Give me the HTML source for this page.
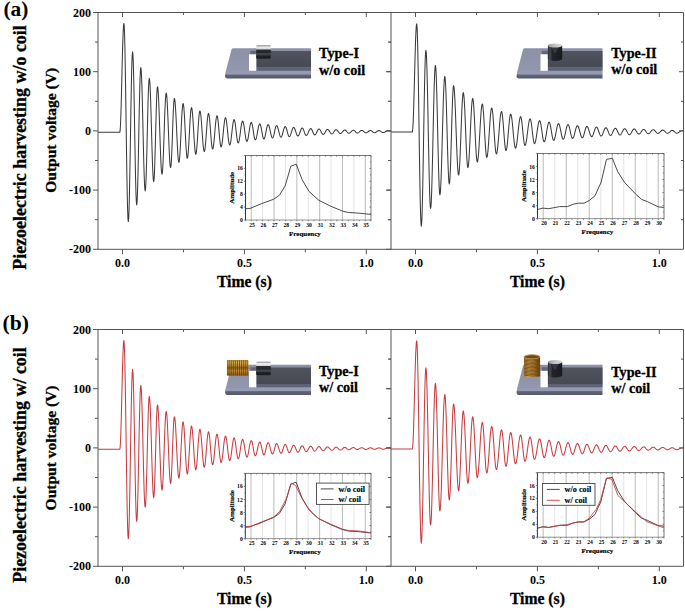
<!DOCTYPE html><html><head><meta charset="utf-8"><style>html,body{margin:0;padding:0;background:#fff;}svg{display:block;}</style></head><body>
<svg width="685" height="611" viewBox="0 0 685 611">

<defs>
<linearGradient id="gTop" x1="0" y1="0" x2="0" y2="1">
 <stop offset="0" stop-color="#8c91a8"/><stop offset="0.8" stop-color="#9196ad"/><stop offset="1" stop-color="#989db3"/>
</linearGradient>
<linearGradient id="gFront" x1="0" y1="0" x2="0" y2="1">
 <stop offset="0" stop-color="#6e7287"/><stop offset="0.5" stop-color="#5d6074"/><stop offset="1" stop-color="#55586a"/>
</linearGradient>
<linearGradient id="gBeam" x1="0" y1="0" x2="0" y2="1">
 <stop offset="0" stop-color="#50525d"/><stop offset="1" stop-color="#474953"/>
</linearGradient>
<linearGradient id="gMagI" x1="0" y1="0" x2="0" y2="1">
 <stop offset="0" stop-color="#828286"/><stop offset="0.08" stop-color="#b8b8bb"/><stop offset="0.13" stop-color="#efeff0"/>
 <stop offset="0.29" stop-color="#d4d4d6"/><stop offset="0.34" stop-color="#2e2f34"/><stop offset="0.55" stop-color="#24252b"/>
 <stop offset="0.62" stop-color="#474951"/><stop offset="0.72" stop-color="#3c3e46"/><stop offset="0.8" stop-color="#1f2026"/>
 <stop offset="1" stop-color="#1d1e23"/>
</linearGradient>
<linearGradient id="gCyl" x1="0" y1="0" x2="1" y2="0">
 <stop offset="0" stop-color="#2a2b30"/><stop offset="0.15" stop-color="#4a4b52"/><stop offset="0.3" stop-color="#232429"/>
 <stop offset="0.7" stop-color="#1e1f24"/><stop offset="1" stop-color="#18191d"/>
</linearGradient>
<linearGradient id="gCylTop" x1="0" y1="0" x2="1" y2="0">
 <stop offset="0" stop-color="#9a9a9e"/><stop offset="0.5" stop-color="#c4c4c7"/><stop offset="1" stop-color="#d8d8da"/>
</linearGradient>
<linearGradient id="gCoilH" x1="0" y1="0" x2="0" y2="1">
 <stop offset="0" stop-color="#c09040"/><stop offset="0.15" stop-color="#e6bd60"/><stop offset="0.35" stop-color="#c89440"/>
 <stop offset="0.5" stop-color="#8e5f18"/><stop offset="0.68" stop-color="#d09c48"/><stop offset="0.85" stop-color="#a5741f"/>
 <stop offset="1" stop-color="#8c6020"/>
</linearGradient>
<linearGradient id="gCoilV" x1="0" y1="0" x2="1" y2="0">
 <stop offset="0" stop-color="#a87a30"/><stop offset="0.3" stop-color="#d6a450"/><stop offset="0.6" stop-color="#c08838"/>
 <stop offset="0.85" stop-color="#8a5c1c"/><stop offset="1" stop-color="#6e4814"/>
</linearGradient>
</defs>

<rect width="685" height="611" fill="#fff"/>
<clipPath id="c98_12"><rect x="98.0" y="12.5" width="293.0" height="236.8"/></clipPath>
<path d="M98.00,132.30 L119.80,132.30 L120.14,130.44 L120.48,125.01 L120.83,116.35 L121.17,105.08 L121.51,91.94 L121.85,77.85 L122.19,63.76 L122.53,50.63 L122.88,39.35 L123.22,30.69 L123.56,25.26 L123.90,23.40 L124.24,26.28 L124.58,34.75 L124.92,48.32 L125.25,66.20 L125.59,87.36 L125.93,110.55 L126.27,134.45 L126.61,157.64 L126.95,178.80 L127.28,196.68 L127.62,210.25 L127.96,218.72 L128.30,221.60 L128.66,218.71 L129.02,210.23 L129.38,196.75 L129.73,179.18 L130.09,158.71 L130.45,136.75 L130.81,114.79 L131.17,94.33 L131.53,76.75 L131.88,63.27 L132.24,54.79 L132.60,51.90 L132.94,54.51 L133.28,62.15 L133.62,74.31 L133.97,90.15 L134.31,108.60 L134.65,128.40 L134.99,148.20 L135.33,166.65 L135.67,182.49 L136.02,194.65 L136.36,202.29 L136.70,204.90 L137.04,202.56 L137.38,195.70 L137.72,184.79 L138.07,170.58 L138.41,154.02 L138.75,136.25 L139.09,118.48 L139.43,101.93 L139.78,87.71 L140.12,76.80 L140.46,69.94 L140.80,67.60 L141.14,69.39 L141.48,74.67 L141.82,83.12 L142.15,94.25 L142.49,107.42 L142.83,121.86 L143.17,136.74 L143.51,151.18 L143.85,164.35 L144.18,175.48 L144.52,183.93 L144.86,189.21 L145.20,191.00 L145.54,189.08 L145.88,183.46 L146.22,174.51 L146.57,162.85 L146.91,149.27 L147.25,134.70 L147.59,120.13 L147.93,106.55 L148.28,94.89 L148.62,85.94 L148.96,80.32 L149.30,78.40 L149.64,79.90 L149.98,84.32 L150.32,91.39 L150.65,100.71 L150.99,111.73 L151.33,123.82 L151.67,136.28 L152.01,148.37 L152.35,159.39 L152.68,168.71 L153.02,175.78 L153.36,180.20 L153.70,181.70 L154.05,179.78 L154.39,174.16 L154.74,165.31 L155.08,153.93 L155.43,140.96 L155.77,127.44 L156.12,114.47 L156.46,103.09 L156.81,94.24 L157.15,88.62 L157.50,86.70 L157.85,87.97 L158.19,91.71 L158.54,97.70 L158.88,105.60 L159.23,114.94 L159.58,125.18 L159.92,135.72 L160.27,145.96 L160.62,155.30 L160.96,163.20 L161.31,169.19 L161.65,172.93 L162.00,174.20 L162.35,172.82 L162.70,168.77 L163.05,162.32 L163.40,153.92 L163.75,144.15 L164.10,133.65 L164.45,123.15 L164.80,113.38 L165.15,104.98 L165.50,98.53 L165.85,94.48 L166.20,93.10 L166.54,94.18 L166.88,97.37 L167.22,102.47 L167.55,109.19 L167.89,117.14 L168.23,125.86 L168.57,134.84 L168.91,143.56 L169.25,151.51 L169.58,158.23 L169.92,163.33 L170.26,166.52 L170.60,167.60 L170.95,166.20 L171.29,162.11 L171.64,155.66 L171.98,147.37 L172.33,137.92 L172.67,128.08 L173.02,118.63 L173.36,110.34 L173.71,103.89 L174.05,99.80 L174.40,98.40 L174.75,99.33 L175.09,102.07 L175.44,106.45 L175.78,112.22 L176.13,119.05 L176.48,126.54 L176.82,134.26 L177.17,141.75 L177.52,148.58 L177.86,154.35 L178.21,158.73 L178.55,161.47 L178.90,162.40 L179.25,161.39 L179.60,158.45 L179.95,153.76 L180.30,147.65 L180.65,140.54 L181.00,132.90 L181.35,125.26 L181.70,118.15 L182.05,112.04 L182.40,107.35 L182.75,104.41 L183.10,103.40 L183.45,104.34 L183.80,107.08 L184.15,111.44 L184.50,117.12 L184.85,123.75 L185.20,130.85 L185.55,137.95 L185.90,144.57 L186.25,150.26 L186.60,154.62 L186.95,157.36 L187.30,158.30 L187.65,157.44 L188.00,154.90 L188.35,150.88 L188.70,145.62 L189.05,139.51 L189.40,132.95 L189.75,126.39 L190.10,120.28 L190.45,115.02 L190.80,111.00 L191.15,108.46 L191.50,107.60 L191.86,108.39 L192.22,110.72 L192.57,114.42 L192.93,119.25 L193.29,124.87 L193.65,130.90 L194.01,136.93 L194.37,142.55 L194.73,147.38 L195.08,151.08 L195.44,153.41 L195.80,154.20 L196.14,153.46 L196.48,151.30 L196.83,147.86 L197.17,143.38 L197.51,138.15 L197.85,132.55 L198.19,126.95 L198.53,121.73 L198.88,117.24 L199.22,113.80 L199.56,111.64 L199.90,110.90 L200.24,111.49 L200.58,113.23 L200.92,116.02 L201.25,119.69 L201.59,124.03 L201.93,128.80 L202.27,133.70 L202.61,138.47 L202.95,142.81 L203.28,146.48 L203.62,149.27 L203.96,151.01 L204.30,151.60 L204.65,150.95 L205.00,149.04 L205.35,146.01 L205.70,142.05 L206.05,137.44 L206.40,132.50 L206.75,127.56 L207.10,122.95 L207.45,118.99 L207.80,115.96 L208.15,114.05 L208.50,113.40 L208.84,114.01 L209.18,115.79 L209.53,118.63 L209.87,122.33 L210.21,126.63 L210.55,131.25 L210.89,135.87 L211.23,140.17 L211.57,143.87 L211.92,146.71 L212.26,148.49 L212.60,149.10 L212.94,148.62 L213.28,147.19 L213.62,144.91 L213.95,141.91 L214.29,138.35 L214.63,134.46 L214.97,130.44 L215.31,126.55 L215.65,122.99 L215.98,119.99 L216.32,117.71 L216.66,116.28 L217.00,115.80 L217.34,116.33 L217.68,117.88 L218.03,120.35 L218.37,123.58 L218.71,127.33 L219.05,131.35 L219.39,135.37 L219.73,139.12 L220.07,142.35 L220.42,144.82 L220.76,146.37 L221.10,146.90 L221.44,146.48 L221.78,145.23 L222.12,143.23 L222.45,140.59 L222.79,137.48 L223.13,134.06 L223.47,130.54 L223.81,127.12 L224.15,124.01 L224.48,121.37 L224.82,119.37 L225.16,118.12 L225.50,117.70 L225.85,118.17 L226.20,119.53 L226.55,121.70 L226.90,124.53 L227.25,127.82 L227.60,131.35 L227.95,134.88 L228.30,138.18 L228.65,141.00 L229.00,143.17 L229.35,144.53 L229.70,145.00 L230.04,144.63 L230.38,143.55 L230.72,141.81 L231.05,139.51 L231.39,136.80 L231.73,133.83 L232.07,130.77 L232.41,127.80 L232.75,125.09 L233.08,122.79 L233.42,121.05 L233.76,119.97 L234.10,119.60 L234.44,120.00 L234.78,121.17 L235.12,123.03 L235.47,125.45 L235.81,128.27 L236.15,131.30 L236.49,134.33 L236.83,137.15 L237.17,139.57 L237.52,141.43 L237.86,142.60 L238.20,143.00 L238.54,142.68 L238.88,141.75 L239.22,140.25 L239.55,138.27 L239.89,135.93 L240.23,133.37 L240.57,130.73 L240.91,128.17 L241.25,125.83 L241.58,123.85 L241.92,122.35 L242.26,121.42 L242.60,121.10 L242.96,121.45 L243.32,122.46 L243.68,124.07 L244.03,126.17 L244.39,128.62 L244.75,131.25 L245.11,133.88 L245.47,136.32 L245.82,138.43 L246.18,140.04 L246.54,141.05 L246.90,141.40 L247.24,141.12 L247.58,140.31 L247.92,139.01 L248.25,137.30 L248.59,135.27 L248.93,133.05 L249.27,130.75 L249.61,128.53 L249.95,126.50 L250.28,124.79 L250.62,123.49 L250.96,122.68 L251.30,122.40 L251.63,122.70 L251.97,123.57 L252.30,124.96 L252.63,126.78 L252.97,128.89 L253.30,131.15 L253.63,133.41 L253.97,135.53 L254.30,137.34 L254.63,138.73 L254.97,139.60 L255.30,139.90 L255.65,139.67 L255.99,138.98 L256.34,137.89 L256.68,136.44 L257.03,134.74 L257.38,132.86 L257.72,130.94 L258.07,129.06 L258.42,127.36 L258.76,125.91 L259.11,124.82 L259.45,124.13 L259.80,123.90 L260.14,124.16 L260.48,124.91 L260.82,126.11 L261.17,127.67 L261.51,129.50 L261.85,131.45 L262.19,133.40 L262.53,135.22 L262.88,136.79 L263.22,137.99 L263.56,138.74 L263.90,139.00 L264.25,138.75 L264.60,138.04 L264.95,136.89 L265.30,135.40 L265.65,133.66 L266.00,131.80 L266.35,129.94 L266.70,128.20 L267.05,126.71 L267.40,125.56 L267.75,124.85 L268.10,124.60 L268.44,124.79 L268.78,125.37 L269.12,126.28 L269.45,127.49 L269.79,128.92 L270.13,130.49 L270.47,132.11 L270.81,133.68 L271.15,135.11 L271.48,136.32 L271.82,137.23 L272.16,137.81 L272.50,138.00 L272.84,137.79 L273.18,137.17 L273.52,136.18 L273.87,134.90 L274.21,133.40 L274.55,131.80 L274.89,130.20 L275.23,128.70 L275.58,127.42 L275.92,126.43 L276.26,125.81 L276.60,125.60 L276.94,125.77 L277.28,126.26 L277.62,127.06 L277.95,128.11 L278.29,129.34 L278.63,130.70 L278.97,132.10 L279.31,133.46 L279.65,134.69 L279.98,135.74 L280.32,136.54 L280.66,137.03 L281.00,137.20 L281.35,137.02 L281.70,136.48 L282.05,135.63 L282.40,134.53 L282.75,133.23 L283.10,131.85 L283.45,130.47 L283.80,129.18 L284.15,128.07 L284.50,127.22 L284.85,126.68 L285.20,126.50 L285.54,126.67 L285.88,127.18 L286.23,127.98 L286.57,129.03 L286.91,130.24 L287.25,131.55 L287.59,132.86 L287.93,134.07 L288.27,135.12 L288.62,135.92 L288.96,136.43 L289.30,136.60 L289.64,136.47 L289.98,136.07 L290.32,135.44 L290.65,134.61 L290.99,133.63 L291.33,132.55 L291.67,131.45 L292.01,130.37 L292.35,129.39 L292.68,128.56 L293.02,127.93 L293.36,127.53 L293.70,127.40 L294.05,127.55 L294.40,127.98 L294.75,128.66 L295.10,129.55 L295.45,130.59 L295.80,131.70 L296.15,132.81 L296.50,133.85 L296.85,134.74 L297.20,135.42 L297.55,135.85 L297.90,136.00 L298.26,135.86 L298.62,135.46 L298.97,134.83 L299.33,134.00 L299.69,133.04 L300.05,132.00 L300.41,130.96 L300.77,130.00 L301.12,129.17 L301.48,128.54 L301.84,128.14 L302.20,128.00 L302.53,128.13 L302.87,128.50 L303.20,129.08 L303.53,129.85 L303.87,130.74 L304.20,131.70 L304.53,132.66 L304.87,133.55 L305.20,134.32 L305.53,134.90 L305.87,135.27 L306.20,135.40 L306.55,135.30 L306.91,135.01 L307.26,134.54 L307.62,133.93 L307.97,133.21 L308.32,132.41 L308.68,131.59 L309.03,130.79 L309.38,130.07 L309.74,129.46 L310.09,128.99 L310.45,128.70 L310.80,128.60 L311.15,128.73 L311.51,129.10 L311.86,129.69 L312.22,130.44 L312.57,131.30 L312.93,132.20 L313.28,133.06 L313.64,133.81 L313.99,134.40 L314.35,134.77 L314.70,134.90 L315.06,134.80 L315.42,134.50 L315.77,134.04 L316.13,133.43 L316.49,132.71 L316.85,131.95 L317.21,131.19 L317.57,130.47 L317.93,129.86 L318.28,129.40 L318.64,129.10 L319.00,129.00 L319.35,129.09 L319.70,129.36 L320.05,129.79 L320.40,130.35 L320.75,131.00 L321.10,131.70 L321.45,132.40 L321.80,133.05 L322.15,133.61 L322.50,134.04 L322.85,134.31 L323.20,134.40 L323.56,134.31 L323.92,134.07 L324.27,133.67 L324.63,133.15 L324.99,132.55 L325.35,131.90 L325.71,131.25 L326.07,130.65 L326.43,130.13 L326.78,129.73 L327.14,129.49 L327.50,129.40 L327.84,129.47 L328.18,129.66 L328.52,129.97 L328.85,130.37 L329.19,130.85 L329.53,131.38 L329.87,131.92 L330.21,132.45 L330.55,132.93 L330.88,133.33 L331.22,133.64 L331.56,133.83 L331.90,133.90 L332.24,133.83 L332.58,133.62 L332.92,133.28 L333.27,132.85 L333.61,132.34 L333.95,131.80 L334.29,131.26 L334.63,130.75 L334.98,130.32 L335.32,129.98 L335.66,129.77 L336.00,129.70 L336.34,129.76 L336.68,129.92 L337.02,130.18 L337.35,130.52 L337.69,130.93 L338.03,131.37 L338.37,131.83 L338.71,132.27 L339.05,132.68 L339.38,133.02 L339.72,133.28 L340.06,133.44 L340.40,133.50 L340.76,133.44 L341.12,133.27 L341.47,132.99 L341.83,132.62 L342.19,132.20 L342.55,131.75 L342.91,131.30 L343.27,130.88 L343.62,130.51 L343.98,130.23 L344.34,130.06 L344.70,130.00 L345.05,130.05 L345.40,130.21 L345.75,130.47 L346.10,130.80 L346.45,131.19 L346.80,131.60 L347.15,132.01 L347.50,132.40 L347.85,132.73 L348.20,132.99 L348.55,133.15 L348.90,133.20 L349.25,133.16 L349.59,133.03 L349.94,132.82 L350.28,132.55 L350.63,132.23 L350.98,131.88 L351.32,131.52 L351.67,131.17 L352.02,130.85 L352.36,130.58 L352.71,130.37 L353.05,130.24 L353.40,130.20 L353.73,130.25 L354.07,130.39 L354.40,130.61 L354.73,130.90 L355.07,131.24 L355.40,131.60 L355.73,131.96 L356.07,132.30 L356.40,132.59 L356.73,132.81 L357.07,132.95 L357.40,133.00 L357.76,132.96 L358.12,132.83 L358.47,132.62 L358.83,132.35 L359.19,132.04 L359.55,131.70 L359.91,131.36 L360.27,131.05 L360.62,130.78 L360.98,130.57 L361.34,130.44 L361.70,130.40 L362.05,130.44 L362.40,130.56 L362.75,130.75 L363.10,131.00 L363.45,131.29 L363.80,131.60 L364.15,131.91 L364.50,132.20 L364.85,132.45 L365.20,132.64 L365.55,132.76 L365.90,132.80 L366.25,132.77 L366.61,132.67 L366.96,132.51 L367.32,132.30 L367.67,132.06 L368.02,131.79 L368.38,131.51 L368.73,131.24 L369.08,131.00 L369.44,130.79 L369.79,130.63 L370.15,130.53 L370.50,130.50 L370.85,130.54 L371.21,130.67 L371.56,130.88 L371.92,131.14 L372.27,131.44 L372.63,131.76 L372.98,132.06 L373.34,132.32 L373.69,132.53 L374.05,132.66 L374.40,132.70 L374.75,132.67 L375.11,132.58 L375.46,132.44 L375.82,132.25 L376.17,132.02 L376.52,131.78 L376.88,131.52 L377.23,131.28 L377.58,131.05 L377.94,130.86 L378.29,130.72 L378.65,130.63 L379.00,130.60 L379.35,130.63 L379.70,130.73 L380.05,130.89 L380.40,131.10 L380.75,131.34 L381.10,131.60 L381.45,131.86 L381.80,132.10 L382.15,132.31 L382.50,132.47 L382.85,132.57 L383.20,132.60 L383.55,132.57 L383.89,132.49 L384.24,132.36 L384.58,132.19 L384.93,131.99 L385.28,131.76 L385.62,131.54 L385.97,131.31 L386.32,131.11 L386.66,130.94 L387.01,130.81 L387.35,130.73 L387.70,130.70 L393.00,130.70" fill="none" stroke="#3a3a3a" stroke-width="1.05" stroke-linejoin="round" clip-path="url(#c98_12)"/>
<path d="M93.0,12.5 H391.0 M93.0,249.3 H391.0 M98.0,12.5 V249.3 M95.0,42.10 H98.0 M388.5,42.10 H391.0 M93.0,71.70 H98.0 M386.5,71.70 H391.0 M95.0,101.30 H98.0 M388.5,101.30 H391.0 M93.0,130.90 H98.0 M386.5,130.90 H391.0 M95.0,160.50 H98.0 M388.5,160.50 H391.0 M93.0,190.10 H98.0 M386.5,190.10 H391.0 M95.0,219.70 H98.0 M388.5,219.70 H391.0 M122.50,249.3 V254.3 M122.50,12.5 V17.0 M183.45,249.3 V252.3 M183.45,12.5 V15.0 M244.40,249.3 V254.3 M244.40,12.5 V17.0 M305.35,249.3 V252.3 M305.35,12.5 V15.0 M366.30,249.3 V254.3 M366.30,12.5 V17.0" fill="none" stroke="#555" stroke-width="1"/>
<text x="91.1" y="16.6" font-size="12" text-anchor="end" font-family="Liberation Serif" font-weight="bold">200</text>
<text x="91.1" y="75.8" font-size="12" text-anchor="end" font-family="Liberation Serif" font-weight="bold">100</text>
<text x="91.1" y="135.0" font-size="12" text-anchor="end" font-family="Liberation Serif" font-weight="bold">0</text>
<text x="91.1" y="194.2" font-size="12" text-anchor="end" font-family="Liberation Serif" font-weight="bold">-100</text>
<text x="91.1" y="253.4" font-size="12" text-anchor="end" font-family="Liberation Serif" font-weight="bold">-200</text>
<text x="122.5" y="266.7" font-size="12" text-anchor="middle" font-family="Liberation Serif" font-weight="bold">0.0</text>
<text x="244.4" y="266.7" font-size="12" text-anchor="middle" font-family="Liberation Serif" font-weight="bold">0.5</text>
<text x="366.3" y="266.7" font-size="12" text-anchor="middle" font-family="Liberation Serif" font-weight="bold">1.0</text>
<text x="244.4" y="287.2" font-size="15.7" text-anchor="middle" font-family="Liberation Serif" font-weight="bold" stroke="#000" stroke-width="0.3">Time (s)</text>
<clipPath id="c391_12"><rect x="391.0" y="12.5" width="292.5" height="236.8"/></clipPath>
<path d="M391.00,132.00 L412.30,132.00 L412.64,130.43 L412.98,125.80 L413.32,118.39 L413.65,108.63 L413.99,97.08 L414.33,84.42 L414.67,71.38 L415.01,58.72 L415.35,47.17 L415.68,37.41 L416.02,30.00 L416.36,25.37 L416.70,23.80 L417.05,26.74 L417.41,35.39 L417.76,49.25 L418.12,67.51 L418.47,89.11 L418.82,112.80 L419.18,137.20 L419.53,160.89 L419.88,182.49 L420.24,200.75 L420.59,214.61 L420.95,223.26 L421.30,226.20 L421.65,223.64 L422.01,216.13 L422.36,204.08 L422.72,188.21 L423.07,169.44 L423.42,148.85 L423.78,127.65 L424.13,107.06 L424.48,88.29 L424.84,72.42 L425.19,60.37 L425.55,52.86 L425.90,50.30 L426.24,52.28 L426.57,58.13 L426.91,67.56 L427.24,80.08 L427.58,95.08 L427.91,111.80 L428.25,129.40 L428.59,147.00 L428.92,163.72 L429.26,178.72 L429.59,191.24 L429.93,200.67 L430.26,206.52 L430.60,208.50 L430.94,206.71 L431.29,201.41 L431.63,192.89 L431.97,181.56 L432.31,167.99 L432.66,152.87 L433.00,136.95 L433.34,121.03 L433.69,105.91 L434.03,92.34 L434.37,81.01 L434.71,72.49 L435.06,67.19 L435.40,65.40 L435.75,67.28 L436.09,72.81 L436.44,81.67 L436.78,93.35 L437.13,107.16 L437.48,122.30 L437.82,137.90 L438.17,153.04 L438.52,166.85 L438.86,178.53 L439.21,187.39 L439.55,192.92 L439.90,194.80 L440.25,193.32 L440.60,188.94 L440.95,181.88 L441.30,172.51 L441.65,161.29 L442.00,148.77 L442.35,135.60 L442.70,122.43 L443.05,109.91 L443.40,98.69 L443.75,89.32 L444.10,82.26 L444.45,77.88 L444.80,76.40 L445.15,77.96 L445.49,82.56 L445.84,89.93 L446.18,99.64 L446.53,111.12 L446.88,123.72 L447.22,136.68 L447.57,149.28 L447.92,160.76 L448.26,170.47 L448.61,177.84 L448.95,182.44 L449.30,184.00 L449.66,182.33 L450.02,177.42 L450.38,169.60 L450.73,159.43 L451.09,147.57 L451.45,134.85 L451.81,122.13 L452.17,110.28 L452.53,100.10 L452.88,92.28 L453.24,87.37 L453.60,85.70 L453.93,86.68 L454.27,89.56 L454.60,94.23 L454.93,100.47 L455.27,108.03 L455.60,116.55 L455.93,125.68 L456.27,135.02 L456.60,144.15 L456.93,152.68 L457.27,160.23 L457.60,166.47 L457.93,171.14 L458.27,174.02 L458.60,175.00 L458.94,173.97 L459.27,170.92 L459.61,166.01 L459.94,159.49 L460.28,151.68 L460.61,142.97 L460.95,133.80 L461.29,124.63 L461.62,115.92 L461.96,108.11 L462.29,101.59 L462.63,96.68 L462.96,93.63 L463.30,92.60 L463.65,93.69 L464.01,96.90 L464.36,102.03 L464.72,108.80 L465.07,116.80 L465.42,125.58 L465.78,134.62 L466.13,143.40 L466.48,151.40 L466.84,158.17 L467.19,163.30 L467.55,166.51 L467.90,167.60 L468.24,166.73 L468.59,164.17 L468.93,160.05 L469.27,154.57 L469.61,148.01 L469.96,140.70 L470.30,133.00 L470.64,125.30 L470.99,117.99 L471.33,111.43 L471.67,105.95 L472.01,101.83 L472.36,99.27 L472.70,98.40 L473.05,99.32 L473.41,102.04 L473.76,106.40 L474.12,112.14 L474.47,118.92 L474.82,126.37 L475.18,134.03 L475.53,141.48 L475.88,148.26 L476.24,154.00 L476.59,158.36 L476.95,161.08 L477.30,162.00 L477.63,161.37 L477.97,159.49 L478.30,156.46 L478.63,152.40 L478.97,147.50 L479.30,141.96 L479.63,136.03 L479.97,129.97 L480.30,124.04 L480.63,118.50 L480.97,113.60 L481.30,109.54 L481.63,106.51 L481.97,104.63 L482.30,104.00 L482.65,104.78 L482.99,107.06 L483.34,110.71 L483.68,115.53 L484.03,121.23 L484.38,127.48 L484.72,133.92 L485.07,140.17 L485.42,145.87 L485.76,150.69 L486.11,154.34 L486.45,156.62 L486.80,157.40 L487.15,156.78 L487.50,154.95 L487.85,152.01 L488.20,148.10 L488.55,143.42 L488.90,138.20 L489.25,132.70 L489.60,127.20 L489.95,121.98 L490.30,117.30 L490.65,113.39 L491.00,110.45 L491.35,108.62 L491.70,108.00 L492.04,108.58 L492.37,110.27 L492.71,113.01 L493.04,116.64 L493.38,120.99 L493.71,125.84 L494.05,130.95 L494.39,136.06 L494.72,140.91 L495.06,145.26 L495.39,148.89 L495.73,151.63 L496.06,153.32 L496.40,153.90 L496.74,153.44 L497.08,152.07 L497.42,149.85 L497.76,146.89 L498.10,143.30 L498.44,139.25 L498.78,134.92 L499.12,130.48 L499.46,126.15 L499.80,122.10 L500.14,118.51 L500.48,115.55 L500.82,113.33 L501.16,111.96 L501.50,111.50 L501.85,112.07 L502.19,113.74 L502.54,116.42 L502.88,119.94 L503.23,124.12 L503.58,128.69 L503.92,133.41 L504.27,137.98 L504.62,142.16 L504.96,145.68 L505.31,148.36 L505.65,150.03 L506.00,150.60 L506.34,150.14 L506.67,148.79 L507.01,146.62 L507.34,143.73 L507.68,140.27 L508.01,136.41 L508.35,132.35 L508.69,128.29 L509.02,124.43 L509.36,120.97 L509.69,118.08 L510.03,115.91 L510.36,114.56 L510.70,114.10 L511.04,114.53 L511.39,115.78 L511.73,117.81 L512.07,120.50 L512.41,123.72 L512.76,127.32 L513.10,131.10 L513.44,134.88 L513.79,138.48 L514.13,141.70 L514.47,144.39 L514.81,146.42 L515.16,147.67 L515.50,148.10 L515.84,147.76 L516.18,146.74 L516.52,145.10 L516.86,142.91 L517.20,140.25 L517.54,137.25 L517.88,134.04 L518.22,130.76 L518.56,127.55 L518.90,124.55 L519.24,121.89 L519.58,119.70 L519.92,118.06 L520.26,117.04 L520.60,116.70 L520.94,117.12 L521.28,118.35 L521.62,120.32 L521.95,122.92 L522.29,125.99 L522.63,129.36 L522.97,132.84 L523.31,136.21 L523.65,139.28 L523.98,141.88 L524.32,143.85 L524.66,145.08 L525.00,145.50 L525.34,145.21 L525.68,144.35 L526.02,142.95 L526.36,141.08 L526.70,138.82 L527.04,136.28 L527.38,133.55 L527.72,130.75 L528.06,128.02 L528.40,125.47 L528.74,123.22 L529.08,121.35 L529.42,119.95 L529.76,119.09 L530.10,118.80 L530.44,119.16 L530.78,120.22 L531.12,121.92 L531.45,124.16 L531.79,126.80 L532.13,129.71 L532.47,132.69 L532.81,135.60 L533.15,138.24 L533.48,140.48 L533.82,142.18 L534.16,143.24 L534.50,143.60 L534.84,143.35 L535.18,142.61 L535.52,141.41 L535.86,139.81 L536.20,137.88 L536.54,135.69 L536.88,133.35 L537.22,130.95 L537.56,128.61 L537.90,126.43 L538.24,124.49 L538.58,122.89 L538.92,121.69 L539.26,120.95 L539.60,120.70 L539.95,121.01 L540.31,121.91 L540.66,123.35 L541.02,125.26 L541.37,127.51 L541.72,129.98 L542.08,132.52 L542.43,134.99 L542.78,137.24 L543.14,139.15 L543.49,140.59 L543.85,141.49 L544.20,141.80 L544.55,141.55 L544.90,140.82 L545.25,139.65 L545.60,138.09 L545.95,136.22 L546.30,134.14 L546.65,131.95 L547.00,129.76 L547.35,127.68 L547.70,125.81 L548.05,124.25 L548.40,123.08 L548.75,122.35 L549.10,122.10 L549.45,122.37 L549.81,123.15 L550.16,124.40 L550.52,126.05 L550.87,128.01 L551.22,130.15 L551.58,132.35 L551.93,134.49 L552.28,136.45 L552.64,138.10 L552.99,139.35 L553.35,140.13 L553.70,140.40 L554.04,140.19 L554.39,139.57 L554.73,138.57 L555.07,137.24 L555.41,135.64 L555.76,133.87 L556.10,132.00 L556.44,130.13 L556.79,128.36 L557.13,126.76 L557.47,125.43 L557.81,124.43 L558.16,123.81 L558.50,123.60 L558.84,123.80 L559.17,124.37 L559.51,125.30 L559.84,126.54 L560.18,128.02 L560.51,129.66 L560.85,131.40 L561.19,133.14 L561.52,134.78 L561.86,136.26 L562.19,137.50 L562.53,138.43 L562.86,139.00 L563.20,139.20 L563.54,139.02 L563.89,138.48 L564.23,137.61 L564.57,136.45 L564.91,135.07 L565.26,133.52 L565.60,131.90 L565.94,130.28 L566.29,128.73 L566.63,127.35 L566.97,126.19 L567.31,125.32 L567.66,124.78 L568.00,124.60 L568.35,124.80 L568.71,125.39 L569.06,126.34 L569.42,127.58 L569.77,129.05 L570.12,130.67 L570.48,132.33 L570.83,133.95 L571.18,135.42 L571.54,136.66 L571.89,137.61 L572.25,138.20 L572.60,138.40 L572.94,138.24 L573.29,137.77 L573.63,137.01 L573.97,136.01 L574.31,134.81 L574.66,133.46 L575.00,132.05 L575.34,130.64 L575.69,129.29 L576.03,128.09 L576.37,127.09 L576.71,126.33 L577.06,125.86 L577.40,125.70 L577.75,125.85 L578.10,126.30 L578.45,127.02 L578.80,127.98 L579.15,129.13 L579.50,130.40 L579.85,131.75 L580.20,133.10 L580.55,134.37 L580.90,135.52 L581.25,136.48 L581.60,137.20 L581.95,137.65 L582.30,137.80 L582.65,137.63 L583.01,137.15 L583.36,136.37 L583.72,135.34 L584.07,134.12 L584.42,132.79 L584.78,131.41 L585.13,130.08 L585.48,128.86 L585.84,127.83 L586.19,127.05 L586.55,126.57 L586.90,126.40 L587.24,126.53 L587.59,126.91 L587.93,127.52 L588.27,128.34 L588.61,129.32 L588.96,130.40 L589.30,131.55 L589.64,132.70 L589.99,133.78 L590.33,134.76 L590.67,135.58 L591.01,136.19 L591.36,136.57 L591.70,136.70 L592.04,136.58 L592.37,136.22 L592.71,135.65 L593.04,134.89 L593.38,133.98 L593.71,132.97 L594.05,131.90 L594.39,130.83 L594.72,129.82 L595.06,128.91 L595.39,128.15 L595.73,127.58 L596.06,127.22 L596.40,127.10 L596.74,127.21 L597.07,127.54 L597.41,128.07 L597.74,128.78 L598.08,129.62 L598.41,130.56 L598.75,131.55 L599.09,132.54 L599.42,133.48 L599.76,134.32 L600.09,135.03 L600.43,135.56 L600.76,135.89 L601.10,136.00 L601.44,135.90 L601.79,135.59 L602.13,135.09 L602.47,134.44 L602.81,133.65 L603.16,132.77 L603.50,131.85 L603.84,130.93 L604.19,130.05 L604.53,129.26 L604.87,128.61 L605.21,128.11 L605.56,127.80 L605.90,127.70 L606.25,127.81 L606.61,128.14 L606.96,128.67 L607.32,129.36 L607.67,130.18 L608.02,131.09 L608.38,132.01 L608.73,132.92 L609.08,133.74 L609.44,134.43 L609.79,134.96 L610.15,135.29 L610.50,135.40 L610.85,135.31 L611.20,135.05 L611.55,134.63 L611.90,134.06 L612.25,133.39 L612.60,132.64 L612.95,131.85 L613.30,131.06 L613.65,130.31 L614.00,129.64 L614.35,129.07 L614.70,128.65 L615.05,128.39 L615.40,128.30 L615.75,128.40 L616.09,128.68 L616.44,129.14 L616.78,129.75 L617.13,130.46 L617.48,131.25 L617.82,132.05 L618.17,132.84 L618.52,133.55 L618.86,134.16 L619.21,134.62 L619.55,134.90 L619.90,135.00 L620.24,134.92 L620.59,134.69 L620.93,134.31 L621.27,133.81 L621.61,133.22 L621.96,132.55 L622.30,131.85 L622.64,131.15 L622.99,130.48 L623.33,129.89 L623.67,129.39 L624.01,129.01 L624.36,128.78 L624.70,128.70 L625.04,128.78 L625.37,129.00 L625.71,129.35 L626.04,129.83 L626.38,130.40 L626.71,131.03 L627.05,131.70 L627.39,132.37 L627.72,133.00 L628.06,133.57 L628.39,134.05 L628.73,134.40 L629.06,134.62 L629.40,134.70 L629.74,134.63 L630.09,134.42 L630.43,134.08 L630.77,133.63 L631.11,133.09 L631.46,132.48 L631.80,131.85 L632.14,131.22 L632.49,130.61 L632.83,130.07 L633.17,129.62 L633.51,129.28 L633.86,129.07 L634.20,129.00 L634.55,129.07 L634.91,129.29 L635.26,129.64 L635.62,130.10 L635.97,130.65 L636.32,131.24 L636.68,131.86 L637.03,132.45 L637.38,133.00 L637.74,133.46 L638.09,133.81 L638.45,134.03 L638.80,134.10 L639.15,134.04 L639.50,133.87 L639.85,133.59 L640.20,133.22 L640.55,132.77 L640.90,132.27 L641.25,131.75 L641.60,131.23 L641.95,130.73 L642.30,130.28 L642.65,129.91 L643.00,129.63 L643.35,129.46 L643.70,129.40 L644.05,129.46 L644.39,129.65 L644.74,129.94 L645.08,130.33 L645.43,130.79 L645.78,131.29 L646.12,131.81 L646.47,132.31 L646.82,132.77 L647.16,133.16 L647.51,133.45 L647.85,133.64 L648.20,133.70 L648.54,133.66 L648.88,133.53 L649.22,133.32 L649.56,133.04 L649.90,132.70 L650.24,132.32 L650.58,131.91 L650.92,131.49 L651.26,131.08 L651.60,130.70 L651.94,130.36 L652.28,130.08 L652.62,129.87 L652.96,129.74 L653.30,129.70 L653.65,129.75 L653.99,129.91 L654.34,130.17 L654.68,130.50 L655.03,130.89 L655.38,131.33 L655.72,131.77 L656.07,132.21 L656.42,132.60 L656.76,132.93 L657.11,133.19 L657.45,133.35 L657.80,133.40 L658.15,133.36 L658.50,133.24 L658.85,133.04 L659.20,132.78 L659.55,132.47 L659.90,132.12 L660.25,131.75 L660.60,131.38 L660.95,131.03 L661.30,130.72 L661.65,130.46 L662.00,130.26 L662.35,130.14 L662.70,130.10 L663.04,130.14 L663.39,130.25 L663.73,130.44 L664.07,130.68 L664.41,130.98 L664.76,131.31 L665.10,131.65 L665.44,131.99 L665.79,132.32 L666.13,132.62 L666.47,132.86 L666.81,133.05 L667.16,133.16 L667.50,133.20 L667.84,133.16 L668.19,133.06 L668.53,132.89 L668.87,132.67 L669.21,132.41 L669.56,132.11 L669.90,131.80 L670.24,131.49 L670.59,131.19 L670.93,130.93 L671.27,130.71 L671.61,130.54 L671.96,130.44 L672.30,130.40 L672.65,130.44 L672.99,130.56 L673.34,130.75 L673.68,131.00 L674.03,131.30 L674.38,131.63 L674.72,131.97 L675.07,132.30 L675.42,132.60 L675.76,132.85 L676.11,133.04 L676.45,133.16 L676.80,133.20 L677.14,133.17 L677.48,133.10 L677.82,132.97 L678.16,132.80 L678.50,132.60 L678.84,132.37 L679.18,132.13 L679.52,131.87 L679.86,131.63 L680.20,131.40 L680.54,131.20 L680.88,131.03 L681.22,130.90 L681.56,130.83 L681.90,130.80 L686.00,130.80" fill="none" stroke="#3a3a3a" stroke-width="1.05" stroke-linejoin="round" clip-path="url(#c391_12)"/>
<path d="M386.0,12.5 H683.5 M386.0,249.3 H683.5 M391.0,12.5 V249.3 M683.5,12.5 V249.3 M388.0,42.10 H391.0 M681.0,42.10 H683.5 M386.0,71.70 H391.0 M679.0,71.70 H683.5 M388.0,101.30 H391.0 M681.0,101.30 H683.5 M386.0,130.90 H391.0 M679.0,130.90 H683.5 M388.0,160.50 H391.0 M681.0,160.50 H683.5 M386.0,190.10 H391.0 M679.0,190.10 H683.5 M388.0,219.70 H391.0 M681.0,219.70 H683.5 M415.50,249.3 V254.3 M415.50,12.5 V17.0 M476.45,249.3 V252.3 M476.45,12.5 V15.0 M537.40,249.3 V254.3 M537.40,12.5 V17.0 M598.35,249.3 V252.3 M598.35,12.5 V15.0 M659.30,249.3 V254.3 M659.30,12.5 V17.0" fill="none" stroke="#555" stroke-width="1"/>
<text x="415.5" y="266.7" font-size="12" text-anchor="middle" font-family="Liberation Serif" font-weight="bold">0.0</text>
<text x="537.4" y="266.7" font-size="12" text-anchor="middle" font-family="Liberation Serif" font-weight="bold">0.5</text>
<text x="659.3" y="266.7" font-size="12" text-anchor="middle" font-family="Liberation Serif" font-weight="bold">1.0</text>
<text x="537.4" y="287.2" font-size="15.7" text-anchor="middle" font-family="Liberation Serif" font-weight="bold" stroke="#000" stroke-width="0.3">Time (s)</text>
<clipPath id="c98_329"><rect x="98.0" y="329.5" width="293.0" height="236.8"/></clipPath>
<path d="M98.00,449.30 L119.80,449.30 L120.14,447.44 L120.48,442.01 L120.83,433.35 L121.17,422.08 L121.51,408.94 L121.85,394.85 L122.19,380.76 L122.53,367.62 L122.88,356.35 L123.22,347.69 L123.56,342.26 L123.90,340.40 L124.24,343.28 L124.58,351.75 L124.92,365.32 L125.25,383.20 L125.59,404.36 L125.93,427.55 L126.27,451.45 L126.61,474.64 L126.95,495.80 L127.28,513.68 L127.62,527.25 L127.96,535.72 L128.30,538.60 L128.66,535.72 L129.02,527.27 L129.38,513.82 L129.73,496.30 L130.09,475.89 L130.45,454.00 L130.81,432.10 L131.17,411.70 L131.53,394.17 L131.88,380.73 L132.24,372.28 L132.60,369.39 L132.94,371.98 L133.28,379.58 L133.62,391.66 L133.97,407.41 L134.31,425.74 L134.65,445.42 L134.99,465.10 L135.33,483.43 L135.67,499.18 L136.02,511.26 L136.36,518.85 L136.70,521.44 L137.04,519.13 L137.38,512.33 L137.72,501.52 L138.07,487.44 L138.41,471.03 L138.75,453.43 L139.09,435.83 L139.43,419.42 L139.78,405.34 L140.12,394.53 L140.46,387.74 L140.80,385.42 L141.14,387.19 L141.48,392.39 L141.82,400.74 L142.15,411.73 L142.49,424.73 L142.83,438.99 L143.17,453.67 L143.51,467.93 L143.85,480.93 L144.18,491.92 L144.52,500.26 L144.86,505.47 L145.20,507.24 L145.54,505.35 L145.88,499.82 L146.22,491.01 L146.57,479.54 L146.91,466.18 L147.25,451.84 L147.59,437.51 L147.93,424.15 L148.28,412.67 L148.62,403.87 L148.96,398.34 L149.30,396.45 L149.64,397.92 L149.98,402.25 L150.32,409.18 L150.65,418.32 L150.99,429.13 L151.33,440.98 L151.67,453.18 L152.01,465.03 L152.35,475.84 L152.68,484.97 L153.02,491.91 L153.36,496.24 L153.70,497.71 L154.05,495.83 L154.39,490.34 L154.74,481.69 L155.08,470.58 L155.43,457.91 L155.77,444.71 L156.12,432.04 L156.46,420.93 L156.81,412.28 L157.15,406.80 L157.50,404.92 L157.85,406.15 L158.19,409.79 L158.54,415.62 L158.88,423.30 L159.23,432.39 L159.58,442.35 L159.92,452.61 L160.27,462.57 L160.62,471.66 L160.96,479.34 L161.31,485.17 L161.65,488.80 L162.00,490.04 L162.35,488.70 L162.70,484.78 L163.05,478.53 L163.40,470.39 L163.75,460.91 L164.10,450.74 L164.45,440.57 L164.80,431.09 L165.15,422.95 L165.50,416.70 L165.85,412.78 L166.20,411.44 L166.54,412.48 L166.88,415.56 L167.22,420.48 L167.55,426.97 L167.89,434.64 L168.23,443.06 L168.57,451.72 L168.91,460.14 L169.25,467.81 L169.58,474.30 L169.92,479.22 L170.26,482.30 L170.60,483.34 L170.95,481.99 L171.29,478.06 L171.64,471.86 L171.98,463.90 L172.33,454.81 L172.67,445.35 L173.02,436.27 L173.36,428.30 L173.71,422.10 L174.05,418.17 L174.40,416.82 L174.75,417.71 L175.09,420.33 L175.44,424.52 L175.78,430.05 L176.13,436.59 L176.48,443.76 L176.82,451.14 L177.17,458.31 L177.52,464.84 L177.86,470.37 L178.21,474.56 L178.55,477.18 L178.90,478.07 L179.25,477.11 L179.60,474.31 L179.95,469.84 L180.30,464.02 L180.65,457.23 L181.00,449.96 L181.35,442.68 L181.70,435.90 L182.05,430.08 L182.40,425.61 L182.75,422.80 L183.10,421.84 L183.45,422.73 L183.80,425.33 L184.15,429.47 L184.50,434.86 L184.85,441.14 L185.20,447.88 L185.55,454.62 L185.90,460.90 L186.25,466.30 L186.60,470.43 L186.95,473.03 L187.30,473.92 L187.65,473.11 L188.00,470.71 L188.35,466.91 L188.70,461.95 L189.05,456.18 L189.40,449.98 L189.75,443.78 L190.10,438.01 L190.45,433.05 L190.80,429.25 L191.15,426.85 L191.50,426.04 L191.86,426.78 L192.22,428.97 L192.57,432.45 L192.93,436.99 L193.29,442.27 L193.65,447.94 L194.01,453.60 L194.37,458.88 L194.73,463.42 L195.08,466.90 L195.44,469.09 L195.80,469.83 L196.14,469.14 L196.48,467.12 L196.83,463.90 L197.17,459.71 L197.51,454.82 L197.85,449.58 L198.19,444.34 L198.53,439.45 L198.88,435.26 L199.22,432.04 L199.56,430.02 L199.90,429.33 L200.24,429.88 L200.58,431.50 L200.92,434.09 L201.25,437.51 L201.59,441.55 L201.93,445.98 L202.27,450.55 L202.61,454.98 L202.95,459.03 L203.28,462.44 L203.62,465.04 L203.96,466.66 L204.30,467.21 L204.65,466.60 L205.00,464.84 L205.35,462.03 L205.70,458.36 L206.05,454.09 L206.40,449.52 L206.75,444.94 L207.10,440.67 L207.45,437.01 L207.80,434.20 L208.15,432.43 L208.50,431.82 L208.84,432.39 L209.18,434.03 L209.53,436.64 L209.87,440.05 L210.21,444.01 L210.55,448.27 L210.89,452.53 L211.23,456.49 L211.57,459.90 L211.92,462.51 L212.26,464.15 L212.60,464.71 L212.94,464.27 L213.28,462.97 L213.62,460.88 L213.95,458.12 L214.29,454.86 L214.63,451.29 L214.97,447.61 L215.31,444.04 L215.65,440.78 L215.98,438.03 L216.32,435.94 L216.66,434.63 L217.00,434.19 L217.34,434.67 L217.68,436.09 L218.03,438.34 L218.37,441.28 L218.71,444.69 L219.05,448.36 L219.39,452.03 L219.73,455.45 L220.07,458.39 L220.42,460.64 L220.76,462.05 L221.10,462.54 L221.44,462.15 L221.78,461.02 L222.12,459.21 L222.45,456.82 L222.79,453.99 L223.13,450.89 L223.47,447.70 L223.81,444.60 L224.15,441.78 L224.48,439.39 L224.82,437.58 L225.16,436.44 L225.50,436.06 L225.85,436.48 L226.20,437.71 L226.55,439.66 L226.90,442.21 L227.25,445.18 L227.60,448.36 L227.95,451.55 L228.30,454.52 L228.65,457.07 L229.00,459.02 L229.35,460.25 L229.70,460.67 L230.04,460.34 L230.38,459.37 L230.72,457.81 L231.05,455.75 L231.39,453.32 L231.73,450.66 L232.07,447.91 L232.41,445.24 L232.75,442.81 L233.08,440.76 L233.42,439.20 L233.76,438.23 L234.10,437.89 L234.44,438.25 L234.78,439.29 L235.12,440.95 L235.47,443.11 L235.81,445.62 L236.15,448.32 L236.49,451.02 L236.83,453.54 L237.17,455.69 L237.52,457.35 L237.86,458.39 L238.20,458.75 L238.54,458.47 L238.88,457.64 L239.22,456.31 L239.55,454.56 L239.89,452.49 L240.23,450.21 L240.57,447.88 L240.91,445.60 L241.25,443.53 L241.58,441.78 L241.92,440.45 L242.26,439.62 L242.60,439.34 L242.96,439.65 L243.32,440.54 L243.68,441.96 L244.03,443.81 L244.39,445.97 L244.75,448.28 L245.11,450.59 L245.47,452.75 L245.82,454.60 L246.18,456.02 L246.54,456.91 L246.90,457.22 L247.24,456.98 L247.58,456.27 L247.92,455.13 L248.25,453.63 L248.59,451.85 L248.93,449.90 L249.27,447.90 L249.61,445.95 L249.95,444.18 L250.28,442.68 L250.62,441.54 L250.96,440.83 L251.30,440.58 L251.63,440.84 L251.97,441.60 L252.30,442.81 L252.63,444.39 L252.97,446.23 L253.30,448.20 L253.63,450.17 L253.97,452.00 L254.30,453.58 L254.63,454.79 L254.97,455.55 L255.30,455.81 L255.65,455.61 L255.99,455.01 L256.34,454.07 L256.68,452.82 L257.03,451.34 L257.38,449.72 L257.72,448.06 L258.07,446.44 L258.42,444.96 L258.76,443.71 L259.11,442.77 L259.45,442.17 L259.80,441.97 L260.14,442.19 L260.48,442.84 L260.82,443.87 L261.17,445.22 L261.51,446.78 L261.85,448.46 L262.19,450.14 L262.53,451.70 L262.88,453.04 L263.22,454.07 L263.56,454.72 L263.90,454.94 L264.25,454.73 L264.60,454.12 L264.95,453.14 L265.30,451.87 L265.65,450.39 L266.00,448.80 L266.35,447.21 L266.70,445.72 L267.05,444.45 L267.40,443.48 L267.75,442.86 L268.10,442.65 L268.44,442.82 L268.78,443.30 L269.12,444.08 L269.45,445.11 L269.79,446.32 L270.13,447.65 L270.47,449.01 L270.81,450.34 L271.15,451.56 L271.48,452.58 L271.82,453.36 L272.16,453.84 L272.50,454.01 L272.84,453.83 L273.18,453.31 L273.52,452.48 L273.87,451.40 L274.21,450.14 L274.55,448.79 L274.89,447.44 L275.23,446.18 L275.58,445.10 L275.92,444.27 L276.26,443.75 L276.60,443.57 L276.94,443.71 L277.28,444.12 L277.62,444.79 L277.95,445.66 L278.29,446.70 L278.63,447.83 L278.97,449.00 L279.31,450.14 L279.65,451.17 L279.98,452.05 L280.32,452.71 L280.66,453.12 L281.00,453.26 L281.35,453.11 L281.70,452.67 L282.05,451.96 L282.40,451.04 L282.75,449.97 L283.10,448.82 L283.45,447.67 L283.80,446.60 L284.15,445.68 L284.50,444.97 L284.85,444.53 L285.20,444.38 L285.54,444.52 L285.88,444.94 L286.23,445.60 L286.57,446.46 L286.91,447.46 L287.25,448.54 L287.59,449.62 L287.93,450.62 L288.27,451.48 L288.62,452.15 L288.96,452.56 L289.30,452.70 L289.64,452.59 L289.98,452.27 L290.32,451.76 L290.65,451.08 L290.99,450.27 L291.33,449.39 L291.67,448.48 L292.01,447.60 L292.35,446.80 L292.68,446.12 L293.02,445.60 L293.36,445.28 L293.70,445.17 L294.05,445.29 L294.40,445.64 L294.75,446.19 L295.10,446.92 L295.45,447.76 L295.80,448.66 L296.15,449.57 L296.50,450.41 L296.85,451.13 L297.20,451.69 L297.55,452.04 L297.90,452.15 L298.26,452.04 L298.62,451.72 L298.97,451.21 L299.33,450.54 L299.69,449.76 L300.05,448.93 L300.41,448.09 L300.77,447.31 L301.12,446.65 L301.48,446.13 L301.84,445.81 L302.20,445.70 L302.53,445.80 L302.87,446.10 L303.20,446.57 L303.53,447.18 L303.87,447.89 L304.20,448.66 L304.53,449.43 L304.87,450.14 L305.20,450.75 L305.53,451.22 L305.87,451.52 L306.20,451.62 L306.55,451.54 L306.91,451.31 L307.26,450.94 L307.62,450.45 L307.97,449.88 L308.32,449.24 L308.68,448.59 L309.03,447.96 L309.38,447.38 L309.74,446.89 L310.09,446.52 L310.45,446.29 L310.80,446.22 L311.15,446.32 L311.51,446.61 L311.86,447.07 L312.22,447.67 L312.57,448.34 L312.93,449.05 L313.28,449.73 L313.64,450.32 L313.99,450.78 L314.35,451.08 L314.70,451.18 L315.06,451.10 L315.42,450.87 L315.77,450.50 L316.13,450.02 L316.49,449.47 L316.85,448.87 L317.21,448.27 L317.57,447.72 L317.93,447.24 L318.28,446.87 L318.64,446.64 L319.00,446.56 L319.35,446.63 L319.70,446.84 L320.05,447.17 L320.40,447.61 L320.75,448.11 L321.10,448.66 L321.45,449.20 L321.80,449.70 L322.15,450.14 L322.50,450.47 L322.85,450.68 L323.20,450.75 L323.56,450.68 L323.92,450.49 L324.27,450.18 L324.63,449.79 L324.99,449.32 L325.35,448.82 L325.71,448.33 L326.07,447.86 L326.43,447.46 L326.78,447.16 L327.14,446.96 L327.50,446.90 L327.84,446.95 L328.18,447.09 L328.52,447.33 L328.85,447.64 L329.19,448.01 L329.53,448.41 L329.87,448.82 L330.21,449.22 L330.55,449.59 L330.88,449.90 L331.22,450.13 L331.56,450.28 L331.90,450.33 L332.24,450.28 L332.58,450.12 L332.92,449.86 L333.27,449.54 L333.61,449.15 L333.95,448.74 L334.29,448.33 L334.63,447.95 L334.98,447.62 L335.32,447.36 L335.66,447.20 L336.00,447.15 L336.34,447.19 L336.68,447.31 L337.02,447.51 L337.35,447.77 L337.69,448.07 L338.03,448.40 L338.37,448.75 L338.71,449.08 L339.05,449.38 L339.38,449.64 L339.72,449.84 L340.06,449.96 L340.40,450.00 L340.76,449.96 L341.12,449.83 L341.47,449.62 L341.83,449.35 L342.19,449.03 L342.55,448.70 L342.91,448.36 L343.27,448.05 L343.62,447.78 L343.98,447.57 L344.34,447.44 L344.70,447.39 L345.05,447.43 L345.40,447.55 L345.75,447.74 L346.10,447.98 L346.45,448.27 L346.80,448.57 L347.15,448.88 L347.50,449.16 L347.85,449.41 L348.20,449.60 L348.55,449.71 L348.90,449.75 L349.25,449.72 L349.59,449.63 L349.94,449.48 L350.28,449.28 L350.63,449.05 L350.98,448.79 L351.32,448.52 L351.67,448.27 L352.02,448.03 L352.36,447.83 L352.71,447.68 L353.05,447.59 L353.40,447.56 L353.73,447.59 L354.07,447.69 L354.40,447.86 L354.73,448.07 L355.07,448.31 L355.40,448.57 L355.73,448.83 L356.07,449.08 L356.40,449.29 L356.73,449.45 L357.07,449.55 L357.40,449.59 L357.76,449.55 L358.12,449.46 L358.47,449.31 L358.83,449.12 L359.19,448.89 L359.55,448.65 L359.91,448.41 L360.27,448.18 L360.62,447.99 L360.98,447.84 L361.34,447.75 L361.70,447.72 L362.05,447.75 L362.40,447.83 L362.75,447.97 L363.10,448.14 L363.45,448.35 L363.80,448.57 L364.15,448.79 L364.50,449.00 L364.85,449.17 L365.20,449.31 L365.55,449.40 L365.90,449.42 L366.25,449.40 L366.61,449.33 L366.96,449.22 L367.32,449.07 L367.67,448.90 L368.02,448.71 L368.38,448.52 L368.73,448.33 L369.08,448.15 L369.44,448.01 L369.79,447.89 L370.15,447.83 L370.50,447.80 L370.85,447.83 L371.21,447.92 L371.56,448.07 L371.92,448.25 L372.27,448.46 L372.63,448.68 L372.98,448.89 L373.34,449.07 L373.69,449.22 L374.05,449.31 L374.40,449.34 L374.75,449.32 L375.11,449.25 L375.46,449.16 L375.82,449.02 L376.17,448.87 L376.52,448.70 L376.88,448.52 L377.23,448.35 L377.58,448.20 L377.94,448.07 L378.29,447.97 L378.65,447.90 L379.00,447.88 L379.35,447.91 L379.70,447.98 L380.05,448.08 L380.40,448.23 L380.75,448.39 L381.10,448.57 L381.45,448.75 L381.80,448.91 L382.15,449.05 L382.50,449.16 L382.85,449.23 L383.20,449.25 L383.55,449.23 L383.89,449.18 L384.24,449.09 L384.58,448.97 L384.93,448.84 L385.28,448.69 L385.62,448.53 L385.97,448.38 L386.32,448.24 L386.66,448.12 L387.01,448.04 L387.35,447.98 L387.70,447.96 L393.00,447.96" fill="none" stroke="#c83c40" stroke-width="1.05" stroke-linejoin="round" clip-path="url(#c98_329)"/>
<path d="M93.0,329.5 H391.0 M93.0,566.3 H391.0 M98.0,329.5 V566.3 M95.0,359.10 H98.0 M388.5,359.10 H391.0 M93.0,388.70 H98.0 M386.5,388.70 H391.0 M95.0,418.30 H98.0 M388.5,418.30 H391.0 M93.0,447.90 H98.0 M386.5,447.90 H391.0 M95.0,477.50 H98.0 M388.5,477.50 H391.0 M93.0,507.10 H98.0 M386.5,507.10 H391.0 M95.0,536.70 H98.0 M388.5,536.70 H391.0 M122.50,566.3 V571.3 M122.50,329.5 V334.0 M183.45,566.3 V569.3 M183.45,329.5 V332.0 M244.40,566.3 V571.3 M244.40,329.5 V334.0 M305.35,566.3 V569.3 M305.35,329.5 V332.0 M366.30,566.3 V571.3 M366.30,329.5 V334.0" fill="none" stroke="#555" stroke-width="1"/>
<text x="91.1" y="333.6" font-size="12" text-anchor="end" font-family="Liberation Serif" font-weight="bold">200</text>
<text x="91.1" y="392.8" font-size="12" text-anchor="end" font-family="Liberation Serif" font-weight="bold">100</text>
<text x="91.1" y="452.0" font-size="12" text-anchor="end" font-family="Liberation Serif" font-weight="bold">0</text>
<text x="91.1" y="511.2" font-size="12" text-anchor="end" font-family="Liberation Serif" font-weight="bold">-100</text>
<text x="91.1" y="570.4" font-size="12" text-anchor="end" font-family="Liberation Serif" font-weight="bold">-200</text>
<text x="122.5" y="583.7" font-size="12" text-anchor="middle" font-family="Liberation Serif" font-weight="bold">0.0</text>
<text x="244.4" y="583.7" font-size="12" text-anchor="middle" font-family="Liberation Serif" font-weight="bold">0.5</text>
<text x="366.3" y="583.7" font-size="12" text-anchor="middle" font-family="Liberation Serif" font-weight="bold">1.0</text>
<text x="244.4" y="604.2" font-size="15.7" text-anchor="middle" font-family="Liberation Serif" font-weight="bold" stroke="#000" stroke-width="0.3">Time (s)</text>
<clipPath id="c391_329"><rect x="391.0" y="329.5" width="292.5" height="236.8"/></clipPath>
<path d="M391.00,449.00 L412.30,449.00 L412.64,447.43 L412.98,442.80 L413.32,435.39 L413.65,425.63 L413.99,414.08 L414.33,401.42 L414.67,388.38 L415.01,375.72 L415.35,364.17 L415.68,354.41 L416.02,347.00 L416.36,342.37 L416.70,340.80 L417.05,343.74 L417.41,352.39 L417.76,366.25 L418.12,384.51 L418.47,406.11 L418.82,429.80 L419.18,454.20 L419.53,477.89 L419.88,499.49 L420.24,517.75 L420.59,531.61 L420.95,540.26 L421.30,543.20 L421.65,540.65 L422.01,533.15 L422.36,521.14 L422.72,505.32 L423.07,486.60 L423.42,466.07 L423.78,444.93 L424.13,424.40 L424.48,405.68 L424.84,389.86 L425.19,377.85 L425.55,370.35 L425.90,367.80 L426.24,369.77 L426.57,375.59 L426.91,384.95 L427.24,397.40 L427.58,412.31 L427.91,428.92 L428.25,446.41 L428.59,463.91 L428.92,480.52 L429.26,495.43 L429.59,507.87 L429.93,517.24 L430.26,523.05 L430.60,525.02 L430.94,523.25 L431.29,518.00 L431.63,509.56 L431.97,498.33 L432.31,484.89 L432.66,469.91 L433.00,454.13 L433.34,438.36 L433.69,423.38 L434.03,409.94 L434.37,398.71 L434.71,390.27 L435.06,385.02 L435.40,383.25 L435.75,385.10 L436.09,390.56 L436.44,399.31 L436.78,410.83 L437.13,424.47 L437.48,439.42 L437.82,454.82 L438.17,469.77 L438.52,483.40 L438.86,494.93 L439.21,503.67 L439.55,509.13 L439.90,510.99 L440.25,509.53 L440.60,505.22 L440.95,498.28 L441.30,489.06 L441.65,478.01 L442.00,465.70 L442.35,452.74 L442.70,439.78 L443.05,427.47 L443.40,416.42 L443.75,407.20 L444.10,400.26 L444.45,395.95 L444.80,394.49 L445.15,396.02 L445.49,400.53 L445.84,407.75 L446.18,417.27 L446.53,428.53 L446.88,440.87 L447.22,453.58 L447.57,465.93 L447.92,477.18 L448.26,486.70 L448.61,493.92 L448.95,498.43 L449.30,499.96 L449.66,498.33 L450.02,493.53 L450.38,485.90 L450.73,475.96 L451.09,464.38 L451.45,451.95 L451.81,439.53 L452.17,427.95 L452.53,418.00 L452.88,410.38 L453.24,405.58 L453.60,403.94 L453.93,404.89 L454.27,407.70 L454.60,412.24 L454.93,418.32 L455.27,425.66 L455.60,433.96 L455.93,442.84 L456.27,451.92 L456.60,460.80 L456.93,469.10 L457.27,476.45 L457.60,482.52 L457.93,487.06 L458.27,489.87 L458.60,490.82 L458.94,489.82 L459.27,486.86 L459.61,482.11 L459.94,475.78 L460.28,468.21 L460.61,459.77 L460.95,450.89 L461.29,442.00 L461.62,433.56 L461.96,425.99 L462.29,419.67 L462.63,414.91 L462.96,411.96 L463.30,410.96 L463.65,412.01 L464.01,415.10 L464.36,420.06 L464.72,426.59 L465.07,434.31 L465.42,442.79 L465.78,451.51 L466.13,459.98 L466.48,467.71 L466.84,474.24 L467.19,479.20 L467.55,482.29 L467.90,483.34 L468.24,482.51 L468.59,480.05 L468.93,476.08 L469.27,470.82 L469.61,464.51 L469.96,457.48 L470.30,450.08 L470.64,442.68 L470.99,435.65 L471.33,429.34 L471.67,424.08 L472.01,420.12 L472.36,417.66 L472.70,416.82 L473.05,417.71 L473.41,420.31 L473.76,424.48 L474.12,429.97 L474.47,436.46 L474.82,443.59 L475.18,450.92 L475.53,458.05 L475.88,464.54 L476.24,470.04 L476.59,474.20 L476.95,476.81 L477.30,477.69 L477.63,477.09 L477.97,475.30 L478.30,472.41 L478.63,468.54 L478.97,463.87 L479.30,458.59 L479.63,452.94 L479.97,447.16 L480.30,441.51 L480.63,436.23 L480.97,431.56 L481.30,427.69 L481.63,424.80 L481.97,423.02 L482.30,422.41 L482.65,423.15 L482.99,425.31 L483.34,428.78 L483.68,433.35 L484.03,438.76 L484.38,444.69 L484.72,450.79 L485.07,456.72 L485.42,462.13 L485.76,466.70 L486.11,470.17 L486.45,472.33 L486.80,473.07 L487.15,472.48 L487.50,470.76 L487.85,467.98 L488.20,464.29 L488.55,459.86 L488.90,454.93 L489.25,449.74 L489.60,444.55 L489.95,439.62 L490.30,435.20 L490.65,431.50 L491.00,428.72 L491.35,427.00 L491.70,426.41 L492.04,426.96 L492.37,428.55 L492.71,431.12 L493.04,434.54 L493.38,438.62 L493.71,443.18 L494.05,447.98 L494.39,452.78 L494.72,457.34 L495.06,461.43 L495.39,464.85 L495.73,467.42 L496.06,469.01 L496.40,469.55 L496.74,469.12 L497.08,467.84 L497.42,465.76 L497.76,462.99 L498.10,459.64 L498.44,455.85 L498.78,451.79 L499.12,447.65 L499.46,443.59 L499.80,439.80 L500.14,436.45 L500.48,433.67 L500.82,431.60 L501.16,430.32 L501.50,429.89 L501.85,430.41 L502.19,431.97 L502.54,434.46 L502.88,437.75 L503.23,441.63 L503.58,445.89 L503.92,450.27 L504.27,454.53 L504.62,458.42 L504.96,461.70 L505.31,464.19 L505.65,465.75 L506.00,466.28 L506.34,465.85 L506.67,464.60 L507.01,462.59 L507.34,459.91 L507.68,456.71 L508.01,453.13 L508.35,449.37 L508.69,445.61 L509.02,442.04 L509.36,438.83 L509.69,436.16 L510.03,434.14 L510.36,432.89 L510.70,432.47 L511.04,432.86 L511.39,434.02 L511.73,435.89 L512.07,438.37 L512.41,441.34 L512.76,444.65 L513.10,448.13 L513.44,451.62 L513.79,454.93 L514.13,457.90 L514.47,460.38 L514.81,462.24 L515.16,463.40 L515.50,463.79 L515.84,463.48 L516.18,462.55 L516.52,461.04 L516.86,459.03 L517.20,456.60 L517.54,453.85 L517.88,450.91 L518.22,447.90 L518.56,444.95 L518.90,442.21 L519.24,439.77 L519.58,437.76 L519.92,436.25 L520.26,435.32 L520.60,435.01 L520.94,435.39 L521.28,436.51 L521.62,438.31 L521.95,440.68 L522.29,443.48 L522.63,446.55 L522.97,449.72 L523.31,452.79 L523.65,455.59 L523.98,457.96 L524.32,459.76 L524.66,460.88 L525.00,461.26 L525.34,461.00 L525.68,460.21 L526.02,458.95 L526.36,457.26 L526.70,455.21 L527.04,452.90 L527.38,450.42 L527.72,447.89 L528.06,445.42 L528.40,443.10 L528.74,441.06 L529.08,439.36 L529.42,438.10 L529.76,437.32 L530.10,437.05 L530.44,437.38 L530.78,438.33 L531.12,439.86 L531.45,441.88 L531.79,444.27 L532.13,446.88 L532.47,449.58 L532.81,452.19 L533.15,454.58 L533.48,456.60 L533.82,458.13 L534.16,459.08 L534.50,459.41 L534.84,459.18 L535.18,458.52 L535.52,457.45 L535.86,456.01 L536.20,454.27 L536.54,452.31 L536.88,450.21 L537.22,448.07 L537.56,445.97 L537.90,444.01 L538.24,442.27 L538.58,440.84 L538.92,439.76 L539.26,439.10 L539.60,438.87 L539.95,439.15 L540.31,439.95 L540.66,441.24 L541.02,442.94 L541.37,444.94 L541.72,447.14 L542.08,449.41 L542.43,451.61 L542.78,453.62 L543.14,455.31 L543.49,456.60 L543.85,457.41 L544.20,457.68 L544.55,457.46 L544.90,456.82 L545.25,455.78 L545.60,454.39 L545.95,452.74 L546.30,450.89 L546.65,448.95 L547.00,447.01 L547.35,445.16 L547.70,443.51 L548.05,442.13 L548.40,441.09 L548.75,440.44 L549.10,440.22 L549.45,440.46 L549.81,441.15 L550.16,442.25 L550.52,443.70 L550.87,445.42 L551.22,447.31 L551.58,449.25 L551.93,451.14 L552.28,452.86 L552.64,454.31 L552.99,455.41 L553.35,456.10 L553.70,456.34 L554.04,456.15 L554.39,455.61 L554.73,454.73 L555.07,453.57 L555.41,452.17 L555.76,450.62 L556.10,448.98 L556.44,447.35 L556.79,445.79 L557.13,444.40 L557.47,443.23 L557.81,442.36 L558.16,441.81 L558.50,441.63 L558.84,441.80 L559.17,442.30 L559.51,443.11 L559.84,444.18 L560.18,445.47 L560.51,446.90 L560.85,448.41 L561.19,449.92 L561.52,451.36 L561.86,452.64 L562.19,453.72 L562.53,454.53 L562.86,455.03 L563.20,455.20 L563.54,455.04 L563.89,454.57 L564.23,453.82 L564.57,452.82 L564.91,451.62 L565.26,450.29 L565.60,448.89 L565.94,447.48 L566.29,446.15 L566.63,444.95 L566.97,443.95 L567.31,443.20 L567.66,442.73 L568.00,442.57 L568.35,442.75 L568.71,443.25 L569.06,444.06 L569.42,445.13 L569.77,446.40 L570.12,447.79 L570.48,449.21 L570.83,450.60 L571.18,451.87 L571.54,452.94 L571.89,453.75 L572.25,454.25 L572.60,454.43 L572.94,454.29 L573.29,453.89 L573.63,453.24 L573.97,452.38 L574.31,451.36 L574.66,450.21 L575.00,449.01 L575.34,447.80 L575.69,446.65 L576.03,445.63 L576.37,444.77 L576.71,444.12 L577.06,443.72 L577.40,443.59 L577.75,443.71 L578.10,444.09 L578.45,444.70 L578.80,445.52 L579.15,446.49 L579.50,447.57 L579.85,448.71 L580.20,449.85 L580.55,450.94 L580.90,451.91 L581.25,452.72 L581.60,453.33 L581.95,453.71 L582.30,453.84 L582.65,453.70 L583.01,453.29 L583.36,452.63 L583.72,451.77 L584.07,450.74 L584.42,449.62 L584.78,448.46 L585.13,447.34 L585.48,446.31 L585.84,445.44 L586.19,444.79 L586.55,444.38 L586.90,444.24 L587.24,444.34 L587.59,444.66 L587.93,445.18 L588.27,445.86 L588.61,446.67 L588.96,447.58 L589.30,448.54 L589.64,449.50 L589.99,450.41 L590.33,451.23 L590.67,451.91 L591.01,452.42 L591.36,452.74 L591.70,452.85 L592.04,452.75 L592.37,452.45 L592.71,451.98 L593.04,451.35 L593.38,450.59 L593.71,449.75 L594.05,448.86 L594.39,447.97 L594.72,447.13 L595.06,446.37 L595.39,445.74 L595.73,445.27 L596.06,444.97 L596.40,444.87 L596.74,444.97 L597.07,445.24 L597.41,445.67 L597.74,446.25 L598.08,446.95 L598.41,447.73 L598.75,448.54 L599.09,449.36 L599.42,450.13 L599.76,450.83 L600.09,451.41 L600.43,451.85 L600.76,452.12 L601.10,452.21 L601.44,452.12 L601.79,451.87 L602.13,451.47 L602.47,450.93 L602.81,450.29 L603.16,449.57 L603.50,448.81 L603.84,448.06 L604.19,447.34 L604.53,446.69 L604.87,446.15 L605.21,445.75 L605.56,445.50 L605.90,445.41 L606.25,445.50 L606.61,445.77 L606.96,446.20 L607.32,446.76 L607.67,447.43 L608.02,448.16 L608.38,448.92 L608.73,449.65 L609.08,450.32 L609.44,450.88 L609.79,451.31 L610.15,451.58 L610.50,451.67 L610.85,451.60 L611.20,451.38 L611.55,451.04 L611.90,450.59 L612.25,450.05 L612.60,449.44 L612.95,448.80 L613.30,448.17 L613.65,447.56 L614.00,447.02 L614.35,446.56 L614.70,446.22 L615.05,446.01 L615.40,445.94 L615.75,446.02 L616.09,446.25 L616.44,446.61 L616.78,447.10 L617.13,447.67 L617.48,448.30 L617.82,448.94 L618.17,449.57 L618.52,450.14 L618.86,450.63 L619.21,450.99 L619.55,451.22 L619.90,451.30 L620.24,451.24 L620.59,451.05 L620.93,450.75 L621.27,450.36 L621.61,449.88 L621.96,449.35 L622.30,448.80 L622.64,448.24 L622.99,447.71 L623.33,447.24 L623.67,446.84 L624.01,446.54 L624.36,446.36 L624.70,446.29 L625.04,446.35 L625.37,446.53 L625.71,446.81 L626.04,447.18 L626.38,447.63 L626.71,448.13 L627.05,448.66 L627.39,449.18 L627.72,449.68 L628.06,450.13 L628.39,450.51 L628.73,450.79 L629.06,450.96 L629.40,451.02 L629.74,450.97 L630.09,450.80 L630.43,450.53 L630.77,450.18 L631.11,449.76 L631.46,449.29 L631.80,448.79 L632.14,448.30 L632.49,447.82 L632.83,447.40 L633.17,447.05 L633.51,446.78 L633.86,446.62 L634.20,446.56 L634.55,446.62 L634.91,446.79 L635.26,447.06 L635.62,447.42 L635.97,447.84 L636.32,448.30 L636.68,448.78 L637.03,449.24 L637.38,449.66 L637.74,450.02 L638.09,450.29 L638.45,450.46 L638.80,450.52 L639.15,450.47 L639.50,450.34 L639.85,450.12 L640.20,449.83 L640.55,449.49 L640.90,449.11 L641.25,448.71 L641.60,448.30 L641.95,447.92 L642.30,447.58 L642.65,447.29 L643.00,447.08 L643.35,446.94 L643.70,446.90 L644.05,446.95 L644.39,447.09 L644.74,447.31 L645.08,447.61 L645.43,447.96 L645.78,448.34 L646.12,448.74 L646.47,449.12 L646.82,449.47 L647.16,449.77 L647.51,449.99 L647.85,450.13 L648.20,450.18 L648.54,450.15 L648.88,450.05 L649.22,449.89 L649.56,449.68 L649.90,449.42 L650.24,449.13 L650.58,448.82 L650.92,448.51 L651.26,448.20 L651.60,447.91 L651.94,447.65 L652.28,447.44 L652.62,447.28 L652.96,447.18 L653.30,447.15 L653.65,447.19 L653.99,447.31 L654.34,447.50 L654.68,447.75 L655.03,448.05 L655.38,448.37 L655.72,448.70 L656.07,449.03 L656.42,449.33 L656.76,449.58 L657.11,449.77 L657.45,449.88 L657.80,449.93 L658.15,449.89 L658.50,449.80 L658.85,449.66 L659.20,449.46 L659.55,449.23 L659.90,448.97 L660.25,448.70 L660.60,448.42 L660.95,448.16 L661.30,447.93 L661.65,447.74 L662.00,447.59 L662.35,447.50 L662.70,447.47 L663.04,447.50 L663.39,447.58 L663.73,447.72 L664.07,447.90 L664.41,448.11 L664.76,448.36 L665.10,448.61 L665.44,448.86 L665.79,449.11 L666.13,449.32 L666.47,449.50 L666.81,449.64 L667.16,449.72 L667.50,449.75 L667.84,449.73 L668.19,449.65 L668.53,449.53 L668.87,449.37 L669.21,449.17 L669.56,448.96 L669.90,448.73 L670.24,448.50 L670.59,448.28 L670.93,448.09 L671.27,447.93 L671.61,447.80 L671.96,447.73 L672.30,447.70 L672.65,447.73 L672.99,447.82 L673.34,447.96 L673.68,448.14 L674.03,448.36 L674.38,448.60 L674.72,448.84 L675.07,449.08 L675.42,449.29 L675.76,449.48 L676.11,449.62 L676.45,449.70 L676.80,449.73 L677.14,449.71 L677.48,449.66 L677.82,449.57 L678.16,449.45 L678.50,449.30 L678.84,449.13 L679.18,448.96 L679.52,448.78 L679.86,448.60 L680.20,448.43 L680.54,448.29 L680.88,448.17 L681.22,448.08 L681.56,448.02 L681.90,448.00 L686.00,448.00" fill="none" stroke="#c83c40" stroke-width="1.05" stroke-linejoin="round" clip-path="url(#c391_329)"/>
<path d="M386.0,329.5 H683.5 M386.0,566.3 H683.5 M391.0,329.5 V566.3 M683.5,329.5 V566.3 M388.0,359.10 H391.0 M681.0,359.10 H683.5 M386.0,388.70 H391.0 M679.0,388.70 H683.5 M388.0,418.30 H391.0 M681.0,418.30 H683.5 M386.0,447.90 H391.0 M679.0,447.90 H683.5 M388.0,477.50 H391.0 M681.0,477.50 H683.5 M386.0,507.10 H391.0 M679.0,507.10 H683.5 M388.0,536.70 H391.0 M681.0,536.70 H683.5 M415.50,566.3 V571.3 M415.50,329.5 V334.0 M476.45,566.3 V569.3 M476.45,329.5 V332.0 M537.40,566.3 V571.3 M537.40,329.5 V334.0 M598.35,566.3 V569.3 M598.35,329.5 V332.0 M659.30,566.3 V571.3 M659.30,329.5 V334.0" fill="none" stroke="#555" stroke-width="1"/>
<text x="415.5" y="583.7" font-size="12" text-anchor="middle" font-family="Liberation Serif" font-weight="bold">0.0</text>
<text x="537.4" y="583.7" font-size="12" text-anchor="middle" font-family="Liberation Serif" font-weight="bold">0.5</text>
<text x="659.3" y="583.7" font-size="12" text-anchor="middle" font-family="Liberation Serif" font-weight="bold">1.0</text>
<text x="537.4" y="604.2" font-size="15.7" text-anchor="middle" font-family="Liberation Serif" font-weight="bold" stroke="#000" stroke-width="0.3">Time (s)</text>
<text x="3.4" y="16.4" font-size="21.4" font-family="Liberation Serif" font-weight="bold">(a)</text>
<text x="2.5" y="330.4" font-size="21.6" font-family="Liberation Serif" font-weight="bold">(b)</text>
<text transform="translate(25.9,147.5) rotate(-90)" font-size="17.95" text-anchor="middle" font-family="Liberation Serif" font-weight="bold" stroke="#000" stroke-width="0.3">Piezoelectric harvesting w/o coil</text>
<text transform="translate(26.0,465.0) rotate(-90)" font-size="17.95" text-anchor="middle" font-family="Liberation Serif" font-weight="bold" stroke="#000" stroke-width="0.3">Piezoelectric harvesting w/ coil</text>
<text transform="translate(55.7,130.3) rotate(-90)" font-size="15.5" text-anchor="middle" font-family="Liberation Serif" font-weight="bold" stroke="#000" stroke-width="0.3">Output voltage (V)</text>
<text transform="translate(55.7,448.0) rotate(-90)" font-size="15.5" text-anchor="middle" font-family="Liberation Serif" font-weight="bold" stroke="#000" stroke-width="0.3">Output voltage (V)</text>
<path d="M225.30,73.80 L311.00,73.80 L311.00,78.40 L227.00,78.40 Q225.10,78.20 225.10,76.20 Z" fill="url(#gFront)"/>
<path d="M231.50,49.40 Q231.90,48.20 233.60,48.20 L311.00,48.20 L311.00,74.40 L226.80,74.40 Q225.10,74.40 225.50,72.40 Z" fill="url(#gTop)"/>
<rect x="256.20" y="51.00" width="54.80" height="16.50" fill="url(#gBeam)"/>
<rect x="256.20" y="67.40" width="54.80" height="3.30" fill="#5e6276"/>
<rect x="250.40" y="50.80" width="6.00" height="3.60" fill="#62667a"/>
<rect x="249.00" y="54.30" width="7.30" height="16.50" fill="#fdfdfd"/>
<rect x="256.20" y="45.20" width="14.6" height="13.6" rx="1.3" fill="url(#gMagI)"/>
<path d="M516.80,73.80 L602.50,73.80 L602.50,78.40 L518.50,78.40 Q516.60,78.20 516.60,76.20 Z" fill="url(#gFront)"/>
<path d="M523.00,49.40 Q523.40,48.20 525.10,48.20 L602.50,48.20 L602.50,74.40 L518.30,74.40 Q516.60,74.40 517.00,72.40 Z" fill="url(#gTop)"/>
<rect x="547.70" y="51.00" width="54.80" height="16.50" fill="url(#gBeam)"/>
<rect x="547.70" y="67.40" width="54.80" height="3.30" fill="#5e6276"/>
<rect x="541.90" y="50.80" width="6.00" height="3.60" fill="#62667a"/>
<rect x="540.50" y="54.30" width="7.30" height="16.50" fill="#fdfdfd"/>
<path d="M547.90,45.50 L547.90,58.60 A7.15,2.3 0 0 0 562.20,58.60 L562.20,45.50 Z" fill="url(#gCyl)"/>
<path d="M551.50,47.50 Q554.00,53.00 555.00,53.00 Q556.00,53.00 558.50,47.50 Z" fill="#3c3e46" opacity="0.8"/>
<ellipse cx="555.05" cy="45.50" rx="7.15" ry="2.1" fill="url(#gCylTop)"/>
<path d="M225.30,390.30 L311.00,390.30 L311.00,394.90 L227.00,394.90 Q225.10,394.70 225.10,392.70 Z" fill="url(#gFront)"/>
<path d="M231.50,365.90 Q231.90,364.70 233.60,364.70 L311.00,364.70 L311.00,390.90 L226.80,390.90 Q225.10,390.90 225.50,388.90 Z" fill="url(#gTop)"/>
<rect x="256.20" y="367.50" width="54.80" height="16.50" fill="url(#gBeam)"/>
<rect x="256.20" y="383.90" width="54.80" height="3.30" fill="#5e6276"/>
<rect x="250.40" y="367.30" width="6.00" height="3.60" fill="#62667a"/>
<rect x="249.00" y="370.80" width="7.30" height="16.50" fill="#fdfdfd"/>
<rect x="256.20" y="361.70" width="14.6" height="13.6" rx="1.3" fill="url(#gMagI)"/>
<rect x="226.90" y="360.00" width="21.70" height="15.70" rx="1.2" fill="url(#gCoilH)"/>
<line x1="227.90" y1="360.30" x2="227.90" y2="375.40" stroke="#5a3a08" stroke-width="0.9" stroke-opacity="0.85"/>
<line x1="229.83" y1="360.30" x2="229.83" y2="375.40" stroke="#5a3a08" stroke-width="0.9" stroke-opacity="0.85"/>
<line x1="231.76" y1="360.30" x2="231.76" y2="375.40" stroke="#5a3a08" stroke-width="0.9" stroke-opacity="0.85"/>
<line x1="233.69" y1="360.30" x2="233.69" y2="375.40" stroke="#5a3a08" stroke-width="0.9" stroke-opacity="0.85"/>
<line x1="235.62" y1="360.30" x2="235.62" y2="375.40" stroke="#5a3a08" stroke-width="0.9" stroke-opacity="0.85"/>
<line x1="237.55" y1="360.30" x2="237.55" y2="375.40" stroke="#5a3a08" stroke-width="0.9" stroke-opacity="0.85"/>
<line x1="239.48" y1="360.30" x2="239.48" y2="375.40" stroke="#5a3a08" stroke-width="0.9" stroke-opacity="0.85"/>
<line x1="241.41" y1="360.30" x2="241.41" y2="375.40" stroke="#5a3a08" stroke-width="0.9" stroke-opacity="0.85"/>
<line x1="243.34" y1="360.30" x2="243.34" y2="375.40" stroke="#5a3a08" stroke-width="0.9" stroke-opacity="0.85"/>
<line x1="245.27" y1="360.30" x2="245.27" y2="375.40" stroke="#5a3a08" stroke-width="0.9" stroke-opacity="0.85"/>
<line x1="247.20" y1="360.30" x2="247.20" y2="375.40" stroke="#5a3a08" stroke-width="0.9" stroke-opacity="0.85"/>
<path d="M516.80,390.30 L602.50,390.30 L602.50,394.90 L518.50,394.90 Q516.60,394.70 516.60,392.70 Z" fill="url(#gFront)"/>
<path d="M523.00,365.90 Q523.40,364.70 525.10,364.70 L602.50,364.70 L602.50,390.90 L518.30,390.90 Q516.60,390.90 517.00,388.90 Z" fill="url(#gTop)"/>
<rect x="547.70" y="367.50" width="54.80" height="16.50" fill="url(#gBeam)"/>
<rect x="547.70" y="383.90" width="54.80" height="3.30" fill="#5e6276"/>
<rect x="541.90" y="367.30" width="6.00" height="3.60" fill="#62667a"/>
<rect x="540.50" y="370.80" width="7.30" height="16.50" fill="#fdfdfd"/>
<path d="M547.90,362.00 L547.90,375.10 A7.15,2.3 0 0 0 562.20,375.10 L562.20,362.00 Z" fill="url(#gCyl)"/>
<path d="M551.50,364.00 Q554.00,369.50 555.00,369.50 Q556.00,369.50 558.50,364.00 Z" fill="#3c3e46" opacity="0.8"/>
<ellipse cx="555.05" cy="362.00" rx="7.15" ry="2.1" fill="url(#gCylTop)"/>
<path d="M523.90,356.70 L523.90,375.90 A8.1,1.6 0 0 0 540.10,375.90 L540.10,356.70 Z" fill="url(#gCoilV)"/>
<path d="M524.20,358.80 Q532.00,360.50 539.80,358.80" fill="none" stroke="#5a3a0a" stroke-width="0.75" stroke-opacity="0.85"/>
<path d="M524.20,360.17 Q532.00,361.87 539.80,360.17" fill="none" stroke="#5a3a0a" stroke-width="0.75" stroke-opacity="0.85"/>
<path d="M524.20,361.53 Q532.00,363.23 539.80,361.53" fill="none" stroke="#5a3a0a" stroke-width="0.75" stroke-opacity="0.85"/>
<path d="M524.20,362.90 Q532.00,364.60 539.80,362.90" fill="none" stroke="#5a3a0a" stroke-width="0.75" stroke-opacity="0.85"/>
<path d="M524.20,364.27 Q532.00,365.97 539.80,364.27" fill="none" stroke="#5a3a0a" stroke-width="0.75" stroke-opacity="0.85"/>
<path d="M524.20,365.63 Q532.00,367.33 539.80,365.63" fill="none" stroke="#5a3a0a" stroke-width="0.75" stroke-opacity="0.85"/>
<path d="M524.20,367.00 Q532.00,368.70 539.80,367.00" fill="none" stroke="#5a3a0a" stroke-width="0.75" stroke-opacity="0.85"/>
<path d="M524.20,368.37 Q532.00,370.07 539.80,368.37" fill="none" stroke="#5a3a0a" stroke-width="0.75" stroke-opacity="0.85"/>
<path d="M524.20,369.73 Q532.00,371.43 539.80,369.73" fill="none" stroke="#5a3a0a" stroke-width="0.75" stroke-opacity="0.85"/>
<path d="M524.20,371.10 Q532.00,372.80 539.80,371.10" fill="none" stroke="#5a3a0a" stroke-width="0.75" stroke-opacity="0.85"/>
<path d="M524.20,372.47 Q532.00,374.17 539.80,372.47" fill="none" stroke="#5a3a0a" stroke-width="0.75" stroke-opacity="0.85"/>
<path d="M524.20,373.83 Q532.00,375.53 539.80,373.83" fill="none" stroke="#5a3a0a" stroke-width="0.75" stroke-opacity="0.85"/>
<path d="M524.20,375.20 Q532.00,376.90 539.80,375.20" fill="none" stroke="#5a3a0a" stroke-width="0.75" stroke-opacity="0.85"/>
<ellipse cx="532.00" cy="356.80" rx="7.9" ry="2.0" fill="#6a4a1e" stroke="#c09040" stroke-width="0.9"/>
<text x="319.0" y="58.0" font-size="14.2" font-family="Liberation Serif" font-weight="bold" stroke="#000" stroke-width="0.3">Type-I</text>
<text x="319.0" y="74.5" font-size="14.2" font-family="Liberation Serif" font-weight="bold" stroke="#000" stroke-width="0.3">w/o coil</text>
<text x="611.2" y="57.9" font-size="14.2" font-family="Liberation Serif" font-weight="bold" stroke="#000" stroke-width="0.3">Type-II</text>
<text x="611.2" y="74.4" font-size="14.2" font-family="Liberation Serif" font-weight="bold" stroke="#000" stroke-width="0.3">w/o coil</text>
<text x="318.9" y="375.9" font-size="14.2" font-family="Liberation Serif" font-weight="bold" stroke="#000" stroke-width="0.3">Type-I</text>
<text x="318.9" y="392.4" font-size="14.2" font-family="Liberation Serif" font-weight="bold" stroke="#000" stroke-width="0.3">w/ coil</text>
<text x="611.2" y="376.5" font-size="14.2" font-family="Liberation Serif" font-weight="bold" stroke="#000" stroke-width="0.3">Type-II</text>
<text x="611.2" y="393.0" font-size="14.2" font-family="Liberation Serif" font-weight="bold" stroke="#000" stroke-width="0.3">w/ coil</text>
<line x1="251.20" y1="155.5" x2="251.20" y2="220.0" stroke="#c0c0c0" stroke-width="1.1"/>
<line x1="262.61" y1="155.5" x2="262.61" y2="220.0" stroke="#e4e4e4" stroke-width="1"/>
<line x1="274.02" y1="155.5" x2="274.02" y2="220.0" stroke="#c0c0c0" stroke-width="1.1"/>
<line x1="285.43" y1="155.5" x2="285.43" y2="220.0" stroke="#e4e4e4" stroke-width="1"/>
<line x1="296.84" y1="155.5" x2="296.84" y2="220.0" stroke="#c0c0c0" stroke-width="1.1"/>
<line x1="308.25" y1="155.5" x2="308.25" y2="220.0" stroke="#e4e4e4" stroke-width="1"/>
<line x1="319.66" y1="155.5" x2="319.66" y2="220.0" stroke="#c0c0c0" stroke-width="1.1"/>
<line x1="331.07" y1="155.5" x2="331.07" y2="220.0" stroke="#e4e4e4" stroke-width="1"/>
<line x1="342.48" y1="155.5" x2="342.48" y2="220.0" stroke="#c0c0c0" stroke-width="1.1"/>
<line x1="353.89" y1="155.5" x2="353.89" y2="220.0" stroke="#e4e4e4" stroke-width="1"/>
<line x1="365.30" y1="155.5" x2="365.30" y2="220.0" stroke="#c0c0c0" stroke-width="1.1"/>
<path d="M245.50,208.70 L249.90,208.50 L261.70,203.60 L273.50,199.30 L279.40,195.30 L285.30,185.50 L290.80,166.20 L296.20,164.20 L302.10,179.60 L309.00,191.40 L318.80,200.30 L330.70,206.20 L342.50,211.10 L348.40,212.50 L358.20,213.10 L371.00,214.40" fill="none" stroke="#2a2a2a" stroke-width="0.85" stroke-linejoin="round"/>
<path d="M245.5,155.5 H371.0 M371.0,155.5 V220.0" fill="none" stroke="#666" stroke-width="0.9"/>
<path d="M245.5,155.5 V220.0" fill="none" stroke="#333" stroke-width="1"/>
<path d="M245.5,220.0 H371.0" fill="none" stroke="#888" stroke-width="0.9"/>
<path d="M243.9,220.00 H245.5 M369.4,220.00 H371.0 M244.6,213.55 H245.5 M370.1,213.55 H371.0 M243.9,207.10 H245.5 M369.4,207.10 H371.0 M244.6,200.65 H245.5 M370.1,200.65 H371.0 M243.9,194.20 H245.5 M369.4,194.20 H371.0 M244.6,187.75 H245.5 M370.1,187.75 H371.0 M243.9,181.30 H245.5 M369.4,181.30 H371.0 M244.6,174.85 H245.5 M370.1,174.85 H371.0 M243.9,168.40 H245.5 M369.4,168.40 H371.0 M244.6,161.95 H245.5 M370.1,161.95 H371.0 M243.9,155.50 H245.5 M369.4,155.50 H371.0 M245.50,220.0 V221.2 M245.50,155.5 V156.7 M251.20,220.0 V221.2 M251.20,155.5 V156.7 M256.91,220.0 V221.2 M256.91,155.5 V156.7 M262.61,220.0 V221.2 M262.61,155.5 V156.7 M268.32,220.0 V221.2 M268.32,155.5 V156.7 M274.02,220.0 V221.2 M274.02,155.5 V156.7 M279.73,220.0 V221.2 M279.73,155.5 V156.7 M285.43,220.0 V221.2 M285.43,155.5 V156.7 M291.14,220.0 V221.2 M291.14,155.5 V156.7 M296.84,220.0 V221.2 M296.84,155.5 V156.7 M302.55,220.0 V221.2 M302.55,155.5 V156.7 M308.25,220.0 V221.2 M308.25,155.5 V156.7 M313.95,220.0 V221.2 M313.95,155.5 V156.7 M319.66,220.0 V221.2 M319.66,155.5 V156.7 M325.36,220.0 V221.2 M325.36,155.5 V156.7 M331.07,220.0 V221.2 M331.07,155.5 V156.7 M336.77,220.0 V221.2 M336.77,155.5 V156.7 M342.48,220.0 V221.2 M342.48,155.5 V156.7 M348.18,220.0 V221.2 M348.18,155.5 V156.7 M353.89,220.0 V221.2 M353.89,155.5 V156.7 M359.59,220.0 V221.2 M359.59,155.5 V156.7 M365.30,220.0 V221.2 M365.30,155.5 V156.7 M371.00,220.0 V221.2 M371.00,155.5 V156.7" fill="none" stroke="#555" stroke-width="0.7"/>
<text x="242.9" y="222.0" font-size="5.6" text-anchor="end" font-family="Liberation Serif" font-weight="bold">0</text>
<text x="242.9" y="209.1" font-size="5.6" text-anchor="end" font-family="Liberation Serif" font-weight="bold">4</text>
<text x="242.9" y="196.2" font-size="5.6" text-anchor="end" font-family="Liberation Serif" font-weight="bold">8</text>
<text x="242.9" y="183.3" font-size="5.6" text-anchor="end" font-family="Liberation Serif" font-weight="bold">12</text>
<text x="242.9" y="170.4" font-size="5.6" text-anchor="end" font-family="Liberation Serif" font-weight="bold">16</text>
<text x="252.0" y="226.7" font-size="5.6" text-anchor="middle" font-family="Liberation Serif" font-weight="bold">25</text>
<text x="263.4" y="226.7" font-size="5.6" text-anchor="middle" font-family="Liberation Serif" font-weight="bold">26</text>
<text x="274.8" y="226.7" font-size="5.6" text-anchor="middle" font-family="Liberation Serif" font-weight="bold">27</text>
<text x="286.2" y="226.7" font-size="5.6" text-anchor="middle" font-family="Liberation Serif" font-weight="bold">28</text>
<text x="297.6" y="226.7" font-size="5.6" text-anchor="middle" font-family="Liberation Serif" font-weight="bold">29</text>
<text x="309.1" y="226.7" font-size="5.6" text-anchor="middle" font-family="Liberation Serif" font-weight="bold">30</text>
<text x="320.5" y="226.7" font-size="5.6" text-anchor="middle" font-family="Liberation Serif" font-weight="bold">31</text>
<text x="331.9" y="226.7" font-size="5.6" text-anchor="middle" font-family="Liberation Serif" font-weight="bold">32</text>
<text x="343.3" y="226.7" font-size="5.6" text-anchor="middle" font-family="Liberation Serif" font-weight="bold">33</text>
<text x="354.7" y="226.7" font-size="5.6" text-anchor="middle" font-family="Liberation Serif" font-weight="bold">34</text>
<text x="366.1" y="226.7" font-size="5.6" text-anchor="middle" font-family="Liberation Serif" font-weight="bold">35</text>
<text x="304.9" y="235.8" font-size="7" text-anchor="middle" font-family="Liberation Serif" font-weight="bold" stroke="#000" stroke-width="0.15">Frequency</text>
<text transform="translate(234.2,187.8) rotate(-90)" font-size="7" text-anchor="middle" font-family="Liberation Serif" font-weight="bold" stroke="#000" stroke-width="0.15">Amplitude</text>
<line x1="543.25" y1="153.5" x2="543.25" y2="218.6" stroke="#c0c0c0" stroke-width="1.1"/>
<line x1="554.75" y1="153.5" x2="554.75" y2="218.6" stroke="#e4e4e4" stroke-width="1"/>
<line x1="566.25" y1="153.5" x2="566.25" y2="218.6" stroke="#c0c0c0" stroke-width="1.1"/>
<line x1="577.75" y1="153.5" x2="577.75" y2="218.6" stroke="#e4e4e4" stroke-width="1"/>
<line x1="589.25" y1="153.5" x2="589.25" y2="218.6" stroke="#c0c0c0" stroke-width="1.1"/>
<line x1="600.75" y1="153.5" x2="600.75" y2="218.6" stroke="#e4e4e4" stroke-width="1"/>
<line x1="612.25" y1="153.5" x2="612.25" y2="218.6" stroke="#c0c0c0" stroke-width="1.1"/>
<line x1="623.75" y1="153.5" x2="623.75" y2="218.6" stroke="#e4e4e4" stroke-width="1"/>
<line x1="635.25" y1="153.5" x2="635.25" y2="218.6" stroke="#c0c0c0" stroke-width="1.1"/>
<line x1="646.75" y1="153.5" x2="646.75" y2="218.6" stroke="#e4e4e4" stroke-width="1"/>
<line x1="658.25" y1="153.5" x2="658.25" y2="218.6" stroke="#c0c0c0" stroke-width="1.1"/>
<path d="M537.50,209.50 L542.80,208.10 L548.70,208.70 L559.60,206.60 L567.40,206.60 L573.40,204.20 L578.30,203.20 L584.20,203.20 L589.50,200.30 L595.00,195.70 L601.00,182.50 L606.50,159.30 L612.40,158.30 L617.70,171.70 L624.60,182.50 L635.40,193.80 L641.40,199.30 L647.30,201.60 L658.10,206.80 L664.00,207.50" fill="none" stroke="#2a2a2a" stroke-width="0.85" stroke-linejoin="round"/>
<path d="M537.5,153.5 H664.0 M664.0,153.5 V218.6" fill="none" stroke="#666" stroke-width="0.9"/>
<path d="M537.5,153.5 V218.6" fill="none" stroke="#333" stroke-width="1"/>
<path d="M537.5,218.6 H664.0" fill="none" stroke="#888" stroke-width="0.9"/>
<path d="M535.9,218.60 H537.5 M662.4,218.60 H664.0 M536.6,212.09 H537.5 M663.1,212.09 H664.0 M535.9,205.58 H537.5 M662.4,205.58 H664.0 M536.6,199.07 H537.5 M663.1,199.07 H664.0 M535.9,192.56 H537.5 M662.4,192.56 H664.0 M536.6,186.05 H537.5 M663.1,186.05 H664.0 M535.9,179.54 H537.5 M662.4,179.54 H664.0 M536.6,173.03 H537.5 M663.1,173.03 H664.0 M535.9,166.52 H537.5 M662.4,166.52 H664.0 M536.6,160.01 H537.5 M663.1,160.01 H664.0 M535.9,153.50 H537.5 M662.4,153.50 H664.0 M537.50,218.6 V219.8 M537.50,153.5 V154.7 M543.25,218.6 V219.8 M543.25,153.5 V154.7 M549.00,218.6 V219.8 M549.00,153.5 V154.7 M554.75,218.6 V219.8 M554.75,153.5 V154.7 M560.50,218.6 V219.8 M560.50,153.5 V154.7 M566.25,218.6 V219.8 M566.25,153.5 V154.7 M572.00,218.6 V219.8 M572.00,153.5 V154.7 M577.75,218.6 V219.8 M577.75,153.5 V154.7 M583.50,218.6 V219.8 M583.50,153.5 V154.7 M589.25,218.6 V219.8 M589.25,153.5 V154.7 M595.00,218.6 V219.8 M595.00,153.5 V154.7 M600.75,218.6 V219.8 M600.75,153.5 V154.7 M606.50,218.6 V219.8 M606.50,153.5 V154.7 M612.25,218.6 V219.8 M612.25,153.5 V154.7 M618.00,218.6 V219.8 M618.00,153.5 V154.7 M623.75,218.6 V219.8 M623.75,153.5 V154.7 M629.50,218.6 V219.8 M629.50,153.5 V154.7 M635.25,218.6 V219.8 M635.25,153.5 V154.7 M641.00,218.6 V219.8 M641.00,153.5 V154.7 M646.75,218.6 V219.8 M646.75,153.5 V154.7 M652.50,218.6 V219.8 M652.50,153.5 V154.7 M658.25,218.6 V219.8 M658.25,153.5 V154.7 M664.00,218.6 V219.8 M664.00,153.5 V154.7" fill="none" stroke="#555" stroke-width="0.7"/>
<text x="534.9" y="220.6" font-size="5.6" text-anchor="end" font-family="Liberation Serif" font-weight="bold">0</text>
<text x="534.9" y="207.6" font-size="5.6" text-anchor="end" font-family="Liberation Serif" font-weight="bold">4</text>
<text x="534.9" y="194.6" font-size="5.6" text-anchor="end" font-family="Liberation Serif" font-weight="bold">8</text>
<text x="534.9" y="181.5" font-size="5.6" text-anchor="end" font-family="Liberation Serif" font-weight="bold">12</text>
<text x="534.9" y="168.5" font-size="5.6" text-anchor="end" font-family="Liberation Serif" font-weight="bold">16</text>
<text x="544.0" y="225.3" font-size="5.6" text-anchor="middle" font-family="Liberation Serif" font-weight="bold">20</text>
<text x="555.5" y="225.3" font-size="5.6" text-anchor="middle" font-family="Liberation Serif" font-weight="bold">21</text>
<text x="567.0" y="225.3" font-size="5.6" text-anchor="middle" font-family="Liberation Serif" font-weight="bold">22</text>
<text x="578.5" y="225.3" font-size="5.6" text-anchor="middle" font-family="Liberation Serif" font-weight="bold">23</text>
<text x="590.0" y="225.3" font-size="5.6" text-anchor="middle" font-family="Liberation Serif" font-weight="bold">24</text>
<text x="601.5" y="225.3" font-size="5.6" text-anchor="middle" font-family="Liberation Serif" font-weight="bold">25</text>
<text x="613.0" y="225.3" font-size="5.6" text-anchor="middle" font-family="Liberation Serif" font-weight="bold">26</text>
<text x="624.5" y="225.3" font-size="5.6" text-anchor="middle" font-family="Liberation Serif" font-weight="bold">27</text>
<text x="636.0" y="225.3" font-size="5.6" text-anchor="middle" font-family="Liberation Serif" font-weight="bold">28</text>
<text x="647.5" y="225.3" font-size="5.6" text-anchor="middle" font-family="Liberation Serif" font-weight="bold">29</text>
<text x="659.0" y="225.3" font-size="5.6" text-anchor="middle" font-family="Liberation Serif" font-weight="bold">30</text>
<text x="597.5" y="234.4" font-size="7" text-anchor="middle" font-family="Liberation Serif" font-weight="bold" stroke="#000" stroke-width="0.15">Frequency</text>
<text transform="translate(526.2,186.1) rotate(-90)" font-size="7" text-anchor="middle" font-family="Liberation Serif" font-weight="bold" stroke="#000" stroke-width="0.15">Amplitude</text>
<line x1="251.01" y1="473.4" x2="251.01" y2="538.6" stroke="#c0c0c0" stroke-width="1.1"/>
<line x1="262.44" y1="473.4" x2="262.44" y2="538.6" stroke="#e4e4e4" stroke-width="1"/>
<line x1="273.87" y1="473.4" x2="273.87" y2="538.6" stroke="#c0c0c0" stroke-width="1.1"/>
<line x1="285.30" y1="473.4" x2="285.30" y2="538.6" stroke="#e4e4e4" stroke-width="1"/>
<line x1="296.72" y1="473.4" x2="296.72" y2="538.6" stroke="#c0c0c0" stroke-width="1.1"/>
<line x1="308.15" y1="473.4" x2="308.15" y2="538.6" stroke="#e4e4e4" stroke-width="1"/>
<line x1="319.58" y1="473.4" x2="319.58" y2="538.6" stroke="#c0c0c0" stroke-width="1.1"/>
<line x1="331.00" y1="473.4" x2="331.00" y2="538.6" stroke="#e4e4e4" stroke-width="1"/>
<line x1="342.43" y1="473.4" x2="342.43" y2="538.6" stroke="#c0c0c0" stroke-width="1.1"/>
<line x1="353.86" y1="473.4" x2="353.86" y2="538.6" stroke="#e4e4e4" stroke-width="1"/>
<line x1="365.29" y1="473.4" x2="365.29" y2="538.6" stroke="#c0c0c0" stroke-width="1.1"/>
<path d="M245.30,527.18 L249.71,526.98 L261.53,522.02 L273.34,517.68 L279.25,513.63 L285.16,503.73 L290.67,484.22 L296.08,482.19 L301.99,497.76 L308.90,509.69 L318.72,518.69 L330.64,524.65 L342.45,529.60 L348.36,531.02 L358.18,531.63 L371.00,532.94" fill="none" stroke="#2a2a2a" stroke-width="0.85" stroke-linejoin="round"/>
<path d="M245.30,526.86 L251.01,526.21 L260.16,523.28 L273.87,516.76 L279.58,511.54 L286.44,498.50 L291.24,483.18 L295.58,485.46 L301.98,498.50 L307.24,506.98 L313.86,514.80 L319.58,519.04 L331.00,524.26 L342.43,529.15 L348.15,530.45 L359.57,531.10 L371.00,532.73" fill="none" stroke="#c83a3a" stroke-width="0.85" stroke-linejoin="round"/>
<path d="M245.3,473.4 H371.0 M371.0,473.4 V538.6" fill="none" stroke="#666" stroke-width="0.9"/>
<path d="M245.3,473.4 V538.6" fill="none" stroke="#333" stroke-width="1"/>
<path d="M245.3,538.6 H371.0" fill="none" stroke="#888" stroke-width="0.9"/>
<path d="M243.7,538.60 H245.3 M369.4,538.60 H371.0 M244.4,532.08 H245.3 M370.1,532.08 H371.0 M243.7,525.56 H245.3 M369.4,525.56 H371.0 M244.4,519.04 H245.3 M370.1,519.04 H371.0 M243.7,512.52 H245.3 M369.4,512.52 H371.0 M244.4,506.00 H245.3 M370.1,506.00 H371.0 M243.7,499.48 H245.3 M369.4,499.48 H371.0 M244.4,492.96 H245.3 M370.1,492.96 H371.0 M243.7,486.44 H245.3 M369.4,486.44 H371.0 M244.4,479.92 H245.3 M370.1,479.92 H371.0 M243.7,473.40 H245.3 M369.4,473.40 H371.0 M245.30,538.6 V539.8 M245.30,473.4 V474.6 M251.01,538.6 V539.8 M251.01,473.4 V474.6 M256.73,538.6 V539.8 M256.73,473.4 V474.6 M262.44,538.6 V539.8 M262.44,473.4 V474.6 M268.15,538.6 V539.8 M268.15,473.4 V474.6 M273.87,538.6 V539.8 M273.87,473.4 V474.6 M279.58,538.6 V539.8 M279.58,473.4 V474.6 M285.30,538.6 V539.8 M285.30,473.4 V474.6 M291.01,538.6 V539.8 M291.01,473.4 V474.6 M296.72,538.6 V539.8 M296.72,473.4 V474.6 M302.44,538.6 V539.8 M302.44,473.4 V474.6 M308.15,538.6 V539.8 M308.15,473.4 V474.6 M313.86,538.6 V539.8 M313.86,473.4 V474.6 M319.58,538.6 V539.8 M319.58,473.4 V474.6 M325.29,538.6 V539.8 M325.29,473.4 V474.6 M331.00,538.6 V539.8 M331.00,473.4 V474.6 M336.72,538.6 V539.8 M336.72,473.4 V474.6 M342.43,538.6 V539.8 M342.43,473.4 V474.6 M348.15,538.6 V539.8 M348.15,473.4 V474.6 M353.86,538.6 V539.8 M353.86,473.4 V474.6 M359.57,538.6 V539.8 M359.57,473.4 V474.6 M365.29,538.6 V539.8 M365.29,473.4 V474.6 M371.00,538.6 V539.8 M371.00,473.4 V474.6" fill="none" stroke="#555" stroke-width="0.7"/>
<text x="242.7" y="540.6" font-size="5.6" text-anchor="end" font-family="Liberation Serif" font-weight="bold">0</text>
<text x="242.7" y="527.6" font-size="5.6" text-anchor="end" font-family="Liberation Serif" font-weight="bold">4</text>
<text x="242.7" y="514.5" font-size="5.6" text-anchor="end" font-family="Liberation Serif" font-weight="bold">8</text>
<text x="242.7" y="501.5" font-size="5.6" text-anchor="end" font-family="Liberation Serif" font-weight="bold">12</text>
<text x="242.7" y="488.4" font-size="5.6" text-anchor="end" font-family="Liberation Serif" font-weight="bold">16</text>
<text x="251.8" y="545.3" font-size="5.6" text-anchor="middle" font-family="Liberation Serif" font-weight="bold">25</text>
<text x="263.2" y="545.3" font-size="5.6" text-anchor="middle" font-family="Liberation Serif" font-weight="bold">26</text>
<text x="274.7" y="545.3" font-size="5.6" text-anchor="middle" font-family="Liberation Serif" font-weight="bold">27</text>
<text x="286.1" y="545.3" font-size="5.6" text-anchor="middle" font-family="Liberation Serif" font-weight="bold">28</text>
<text x="297.5" y="545.3" font-size="5.6" text-anchor="middle" font-family="Liberation Serif" font-weight="bold">29</text>
<text x="308.9" y="545.3" font-size="5.6" text-anchor="middle" font-family="Liberation Serif" font-weight="bold">30</text>
<text x="320.4" y="545.3" font-size="5.6" text-anchor="middle" font-family="Liberation Serif" font-weight="bold">31</text>
<text x="331.8" y="545.3" font-size="5.6" text-anchor="middle" font-family="Liberation Serif" font-weight="bold">32</text>
<text x="343.2" y="545.3" font-size="5.6" text-anchor="middle" font-family="Liberation Serif" font-weight="bold">33</text>
<text x="354.7" y="545.3" font-size="5.6" text-anchor="middle" font-family="Liberation Serif" font-weight="bold">34</text>
<text x="366.1" y="545.3" font-size="5.6" text-anchor="middle" font-family="Liberation Serif" font-weight="bold">35</text>
<text x="304.8" y="554.4" font-size="7" text-anchor="middle" font-family="Liberation Serif" font-weight="bold" stroke="#000" stroke-width="0.15">Frequency</text>
<text transform="translate(234.0,506.0) rotate(-90)" font-size="7" text-anchor="middle" font-family="Liberation Serif" font-weight="bold" stroke="#000" stroke-width="0.15">Amplitude</text>
<rect x="316.5" y="483.1" width="52.6" height="21.3" fill="#fff" stroke="#444" stroke-width="0.9"/>
<line x1="320.8" y1="488.9" x2="333.6" y2="488.9" stroke="#333" stroke-width="0.9"/>
<line x1="320.8" y1="499.5" x2="333.6" y2="499.5" stroke="#c83a3a" stroke-width="0.9"/>
<text x="338.5" y="491.5" font-size="8.2" font-family="Liberation Serif" font-weight="bold" stroke="#000" stroke-width="0.15">w/o coil</text>
<text x="338.5" y="502.1" font-size="8.2" font-family="Liberation Serif" font-weight="bold" stroke="#000" stroke-width="0.15">w/ coil</text>
<line x1="543.15" y1="472.6" x2="543.15" y2="537.2" stroke="#c0c0c0" stroke-width="1.1"/>
<line x1="554.66" y1="472.6" x2="554.66" y2="537.2" stroke="#e4e4e4" stroke-width="1"/>
<line x1="566.17" y1="472.6" x2="566.17" y2="537.2" stroke="#c0c0c0" stroke-width="1.1"/>
<line x1="577.68" y1="472.6" x2="577.68" y2="537.2" stroke="#e4e4e4" stroke-width="1"/>
<line x1="589.19" y1="472.6" x2="589.19" y2="537.2" stroke="#c0c0c0" stroke-width="1.1"/>
<line x1="600.70" y1="472.6" x2="600.70" y2="537.2" stroke="#e4e4e4" stroke-width="1"/>
<line x1="612.21" y1="472.6" x2="612.21" y2="537.2" stroke="#c0c0c0" stroke-width="1.1"/>
<line x1="623.72" y1="472.6" x2="623.72" y2="537.2" stroke="#e4e4e4" stroke-width="1"/>
<line x1="635.23" y1="472.6" x2="635.23" y2="537.2" stroke="#c0c0c0" stroke-width="1.1"/>
<line x1="646.74" y1="472.6" x2="646.74" y2="537.2" stroke="#e4e4e4" stroke-width="1"/>
<line x1="658.25" y1="472.6" x2="658.25" y2="537.2" stroke="#c0c0c0" stroke-width="1.1"/>
<path d="M537.40,528.17 L542.70,526.78 L548.61,527.38 L559.52,525.29 L567.32,525.29 L573.33,522.91 L578.23,521.92 L584.14,521.92 L589.44,519.04 L594.95,514.48 L600.95,501.38 L606.45,478.36 L612.36,477.36 L617.66,490.66 L624.57,501.38 L635.38,512.59 L641.38,518.05 L647.29,520.33 L658.10,525.49 L664.00,526.19" fill="none" stroke="#2a2a2a" stroke-width="0.85" stroke-linejoin="round"/>
<path d="M537.40,528.16 L543.15,526.86 L548.91,527.51 L560.42,525.25 L566.17,524.93 L571.93,523.31 L577.68,522.02 L583.44,522.02 L589.19,518.14 L596.10,509.42 L600.70,499.73 L606.45,478.09 L611.63,479.06 L617.96,495.53 L623.72,501.02 L635.23,511.68 L646.74,521.70 L654.79,524.60 L664.00,527.83" fill="none" stroke="#c83a3a" stroke-width="0.85" stroke-linejoin="round"/>
<path d="M537.4,472.6 H664.0 M664.0,472.6 V537.2" fill="none" stroke="#666" stroke-width="0.9"/>
<path d="M537.4,472.6 V537.2" fill="none" stroke="#333" stroke-width="1"/>
<path d="M537.4,537.2 H664.0" fill="none" stroke="#888" stroke-width="0.9"/>
<path d="M535.8,537.20 H537.4 M662.4,537.20 H664.0 M536.5,530.74 H537.4 M663.1,530.74 H664.0 M535.8,524.28 H537.4 M662.4,524.28 H664.0 M536.5,517.82 H537.4 M663.1,517.82 H664.0 M535.8,511.36 H537.4 M662.4,511.36 H664.0 M536.5,504.90 H537.4 M663.1,504.90 H664.0 M535.8,498.44 H537.4 M662.4,498.44 H664.0 M536.5,491.98 H537.4 M663.1,491.98 H664.0 M535.8,485.52 H537.4 M662.4,485.52 H664.0 M536.5,479.06 H537.4 M663.1,479.06 H664.0 M535.8,472.60 H537.4 M662.4,472.60 H664.0 M537.40,537.2 V538.4 M537.40,472.6 V473.8 M543.15,537.2 V538.4 M543.15,472.6 V473.8 M548.91,537.2 V538.4 M548.91,472.6 V473.8 M554.66,537.2 V538.4 M554.66,472.6 V473.8 M560.42,537.2 V538.4 M560.42,472.6 V473.8 M566.17,537.2 V538.4 M566.17,472.6 V473.8 M571.93,537.2 V538.4 M571.93,472.6 V473.8 M577.68,537.2 V538.4 M577.68,472.6 V473.8 M583.44,537.2 V538.4 M583.44,472.6 V473.8 M589.19,537.2 V538.4 M589.19,472.6 V473.8 M594.95,537.2 V538.4 M594.95,472.6 V473.8 M600.70,537.2 V538.4 M600.70,472.6 V473.8 M606.45,537.2 V538.4 M606.45,472.6 V473.8 M612.21,537.2 V538.4 M612.21,472.6 V473.8 M617.96,537.2 V538.4 M617.96,472.6 V473.8 M623.72,537.2 V538.4 M623.72,472.6 V473.8 M629.47,537.2 V538.4 M629.47,472.6 V473.8 M635.23,537.2 V538.4 M635.23,472.6 V473.8 M640.98,537.2 V538.4 M640.98,472.6 V473.8 M646.74,537.2 V538.4 M646.74,472.6 V473.8 M652.49,537.2 V538.4 M652.49,472.6 V473.8 M658.25,537.2 V538.4 M658.25,472.6 V473.8 M664.00,537.2 V538.4 M664.00,472.6 V473.8" fill="none" stroke="#555" stroke-width="0.7"/>
<text x="534.8" y="539.2" font-size="5.6" text-anchor="end" font-family="Liberation Serif" font-weight="bold">0</text>
<text x="534.8" y="526.3" font-size="5.6" text-anchor="end" font-family="Liberation Serif" font-weight="bold">4</text>
<text x="534.8" y="513.4" font-size="5.6" text-anchor="end" font-family="Liberation Serif" font-weight="bold">8</text>
<text x="534.8" y="500.4" font-size="5.6" text-anchor="end" font-family="Liberation Serif" font-weight="bold">12</text>
<text x="534.8" y="487.5" font-size="5.6" text-anchor="end" font-family="Liberation Serif" font-weight="bold">16</text>
<text x="544.0" y="543.9" font-size="5.6" text-anchor="middle" font-family="Liberation Serif" font-weight="bold">20</text>
<text x="555.5" y="543.9" font-size="5.6" text-anchor="middle" font-family="Liberation Serif" font-weight="bold">21</text>
<text x="567.0" y="543.9" font-size="5.6" text-anchor="middle" font-family="Liberation Serif" font-weight="bold">22</text>
<text x="578.5" y="543.9" font-size="5.6" text-anchor="middle" font-family="Liberation Serif" font-weight="bold">23</text>
<text x="590.0" y="543.9" font-size="5.6" text-anchor="middle" font-family="Liberation Serif" font-weight="bold">24</text>
<text x="601.5" y="543.9" font-size="5.6" text-anchor="middle" font-family="Liberation Serif" font-weight="bold">25</text>
<text x="613.0" y="543.9" font-size="5.6" text-anchor="middle" font-family="Liberation Serif" font-weight="bold">26</text>
<text x="624.5" y="543.9" font-size="5.6" text-anchor="middle" font-family="Liberation Serif" font-weight="bold">27</text>
<text x="636.0" y="543.9" font-size="5.6" text-anchor="middle" font-family="Liberation Serif" font-weight="bold">28</text>
<text x="647.5" y="543.9" font-size="5.6" text-anchor="middle" font-family="Liberation Serif" font-weight="bold">29</text>
<text x="659.0" y="543.9" font-size="5.6" text-anchor="middle" font-family="Liberation Serif" font-weight="bold">30</text>
<text x="597.4" y="553.0" font-size="7" text-anchor="middle" font-family="Liberation Serif" font-weight="bold" stroke="#000" stroke-width="0.15">Frequency</text>
<text transform="translate(526.1,504.9) rotate(-90)" font-size="7" text-anchor="middle" font-family="Liberation Serif" font-weight="bold" stroke="#000" stroke-width="0.15">Amplitude</text>
<rect x="542.6" y="483.5" width="52.4" height="21.8" fill="#fff" stroke="#444" stroke-width="0.9"/>
<line x1="546.9" y1="489.4" x2="559.7" y2="489.4" stroke="#333" stroke-width="0.9"/>
<line x1="546.9" y1="500.3" x2="559.7" y2="500.3" stroke="#c83a3a" stroke-width="0.9"/>
<text x="564.6" y="492.0" font-size="8.2" font-family="Liberation Serif" font-weight="bold" stroke="#000" stroke-width="0.15">w/o coil</text>
<text x="564.6" y="502.9" font-size="8.2" font-family="Liberation Serif" font-weight="bold" stroke="#000" stroke-width="0.15">w/ coil</text>
</svg></body></html>
